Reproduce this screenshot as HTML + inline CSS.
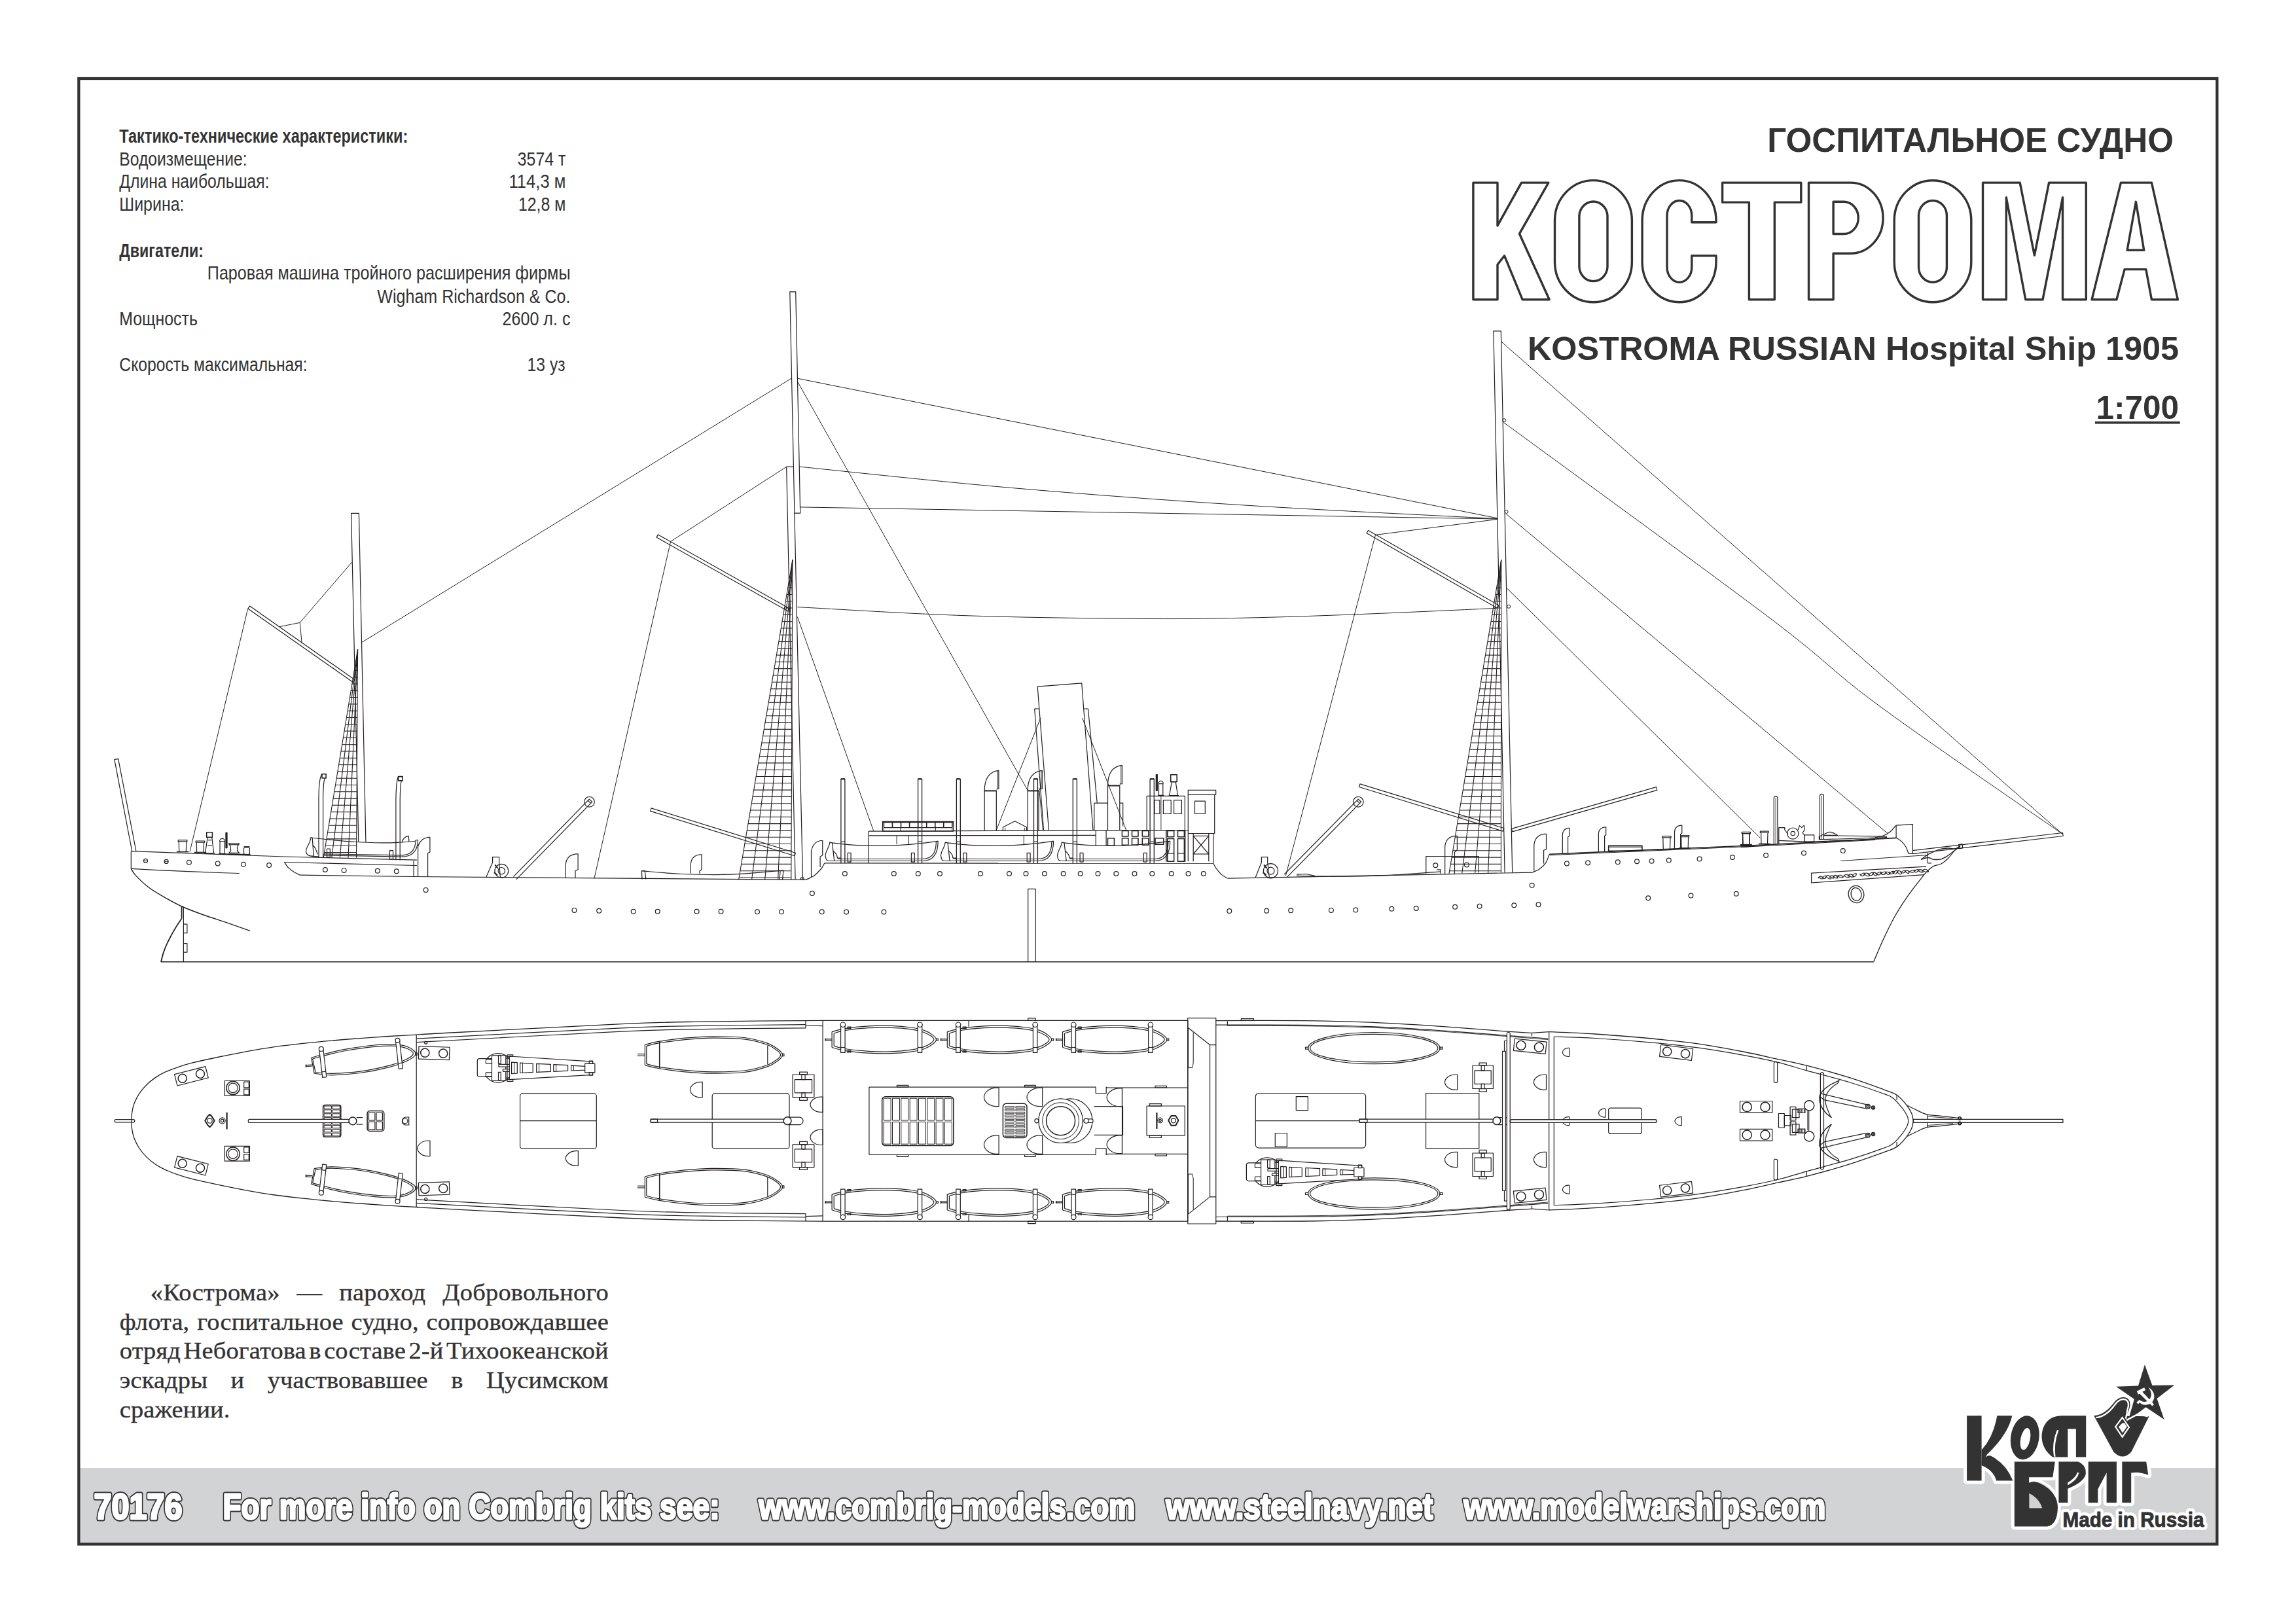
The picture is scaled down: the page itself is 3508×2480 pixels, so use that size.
<!DOCTYPE html>
<html lang="ru"><head><meta charset="utf-8"><title>Кострома 1:700</title>
<style>
html,body{margin:0;padding:0;background:#fff;}
body{width:3508px;height:2480px;overflow:hidden;font-family:"Liberation Sans",sans-serif;}
svg{display:block;position:absolute;left:0;top:0;}
</style></head><body>
<svg width="3508" height="2480" viewBox="0 0 3508 2480">
<rect x="120" y="2243" width="3268" height="117" fill="#d2d3d5"/>
<rect x="120.35" y="120" width="3267" height="2239.5" fill="none" stroke="#333333" stroke-width="4.3"/>
<g fill="#333333" stroke="none"><text x="182.3" y="217.6" font-size="30.3" font-family="'Liberation Sans', sans-serif" textLength="441" lengthAdjust="spacingAndGlyphs" font-weight="bold">Тактико-технические характеристики:</text>
<text x="182.3" y="252.9" font-size="30.3" font-family="'Liberation Sans', sans-serif" textLength="195.2" lengthAdjust="spacingAndGlyphs">Водоизмещение:</text>
<text x="790.7" y="252.9" font-size="30.3" font-family="'Liberation Sans', sans-serif" textLength="73.7" lengthAdjust="spacingAndGlyphs">3574 т</text>
<text x="182.3" y="287.4" font-size="30.3" font-family="'Liberation Sans', sans-serif" textLength="229.3" lengthAdjust="spacingAndGlyphs">Длина наибольшая:</text>
<text x="777.4" y="287.4" font-size="30.3" font-family="'Liberation Sans', sans-serif" textLength="87" lengthAdjust="spacingAndGlyphs">114,3 м</text>
<text x="182.3" y="322.3" font-size="30.3" font-family="'Liberation Sans', sans-serif" textLength="99.2" lengthAdjust="spacingAndGlyphs">Ширина:</text>
<text x="791.9" y="322.3" font-size="30.3" font-family="'Liberation Sans', sans-serif" textLength="72.5" lengthAdjust="spacingAndGlyphs">12,8 м</text>
<text x="182.3" y="392.8" font-size="30.3" font-family="'Liberation Sans', sans-serif" textLength="128.6" lengthAdjust="spacingAndGlyphs" font-weight="bold">Двигатели:</text>
<text x="316.8" y="427.3" font-size="30.3" font-family="'Liberation Sans', sans-serif" textLength="554.7" lengthAdjust="spacingAndGlyphs">Паровая машина тройного расширения фирмы</text>
<text x="576.3" y="462.6" font-size="30.3" font-family="'Liberation Sans', sans-serif" textLength="295.2" lengthAdjust="spacingAndGlyphs">Wigham Richardson &amp; Co.</text>
<text x="182.3" y="497.1" font-size="30.3" font-family="'Liberation Sans', sans-serif" textLength="119.6" lengthAdjust="spacingAndGlyphs">Мощность</text>
<text x="767.6" y="497.1" font-size="30.3" font-family="'Liberation Sans', sans-serif" textLength="103.9" lengthAdjust="spacingAndGlyphs">2600 л. с</text>
<text x="182.3" y="566.5" font-size="30.3" font-family="'Liberation Sans', sans-serif" textLength="287.3" lengthAdjust="spacingAndGlyphs">Скорость максимальная:</text>
<text x="805.6" y="566.5" font-size="30.3" font-family="'Liberation Sans', sans-serif" textLength="58" lengthAdjust="spacingAndGlyphs">13 уз</text>
<text x="2700.2" y="232.2" font-size="51.3" font-family="'Liberation Sans', sans-serif" textLength="620.9" lengthAdjust="spacingAndGlyphs" font-weight="bold">ГОСПИТАЛЬНОЕ СУДНО</text>
<text x="2333.9" y="550" font-size="50.5" font-family="'Liberation Sans', sans-serif" textLength="995.2" lengthAdjust="spacingAndGlyphs" font-weight="bold">KOSTROMA RUSSIAN Hospital Ship 1905</text>
<text x="3202.6" y="639.5" font-size="50.5" font-family="'Liberation Sans', sans-serif" textLength="126.5" lengthAdjust="spacingAndGlyphs" font-weight="bold">1:700</text>
<rect x="3200.9" y="644" width="129.9" height="3.6" fill="#333333" stroke="none"/>
<path d="M2250.9 279.1 L2288 279.1 L2288 344.9 L2324.6 279.1 L2365.9 279.1 L2321.5 357.2 L2367.2 457.8 L2326.2 457.8 L2298.5 390.7 L2288 404.2 L2288 457.8 L2250.9 457.8Z M2375.5 337.1 A58.9 61.4 0 0 1 2493.4 337.1 L2493.4 400.3 A58.9 61.4 0 0 1 2375.5 400.3 Z M2412.9 329.5 A21.6 23 0 0 1 2456 329.5 L2456 408.2 A21.6 23 0 0 1 2412.9 408.2 Z M2622 339.7 L2584.8 339.7 L2584.8 329.5 A18.9 23 0 0 0 2547 329.5 L2547 408.2 A18.9 23 0 0 0 2584.8 408.2 L2584.8 390.7 L2622 390.7 L2622 400.3 A56.4 61.4 0 0 1 2509.1 400.3 L2509.1 337.1 A56.4 61.4 0 0 1 2622 337.1 Z M2631.6 279.1 L2751.8 279.1 L2751.8 309.1 L2711.3 309.1 L2711.3 457.8 L2672.4 457.8 L2672.4 309.1 L2631.6 309.1Z M2763.5 279.1 L2827.5 279.1 A49.6 54.1 0 0 1 2827.5 387.3 L2801.1 387.3 L2801.1 457.8 L2763.5 457.8 Z M2801.1 308.3 L2817.1 308.3 A22.2 24.6 0 0 1 2817.1 357.5 L2801.1 357.5 Z M2894.2 337.1 A58.8 61.4 0 0 1 3011.8 337.1 L3011.8 400.3 A58.8 61.4 0 0 1 2894.2 400.3 Z M2931.5 329.5 A21.4 23 0 0 1 2974.4 329.5 L2974.4 408.2 A21.4 23 0 0 1 2931.5 408.2 Z M3029.5 279.1 L3086.2 279.1 L3108.4 390.1 L3130.6 279.1 L3187.3 279.1 L3187.3 457.8 L3151.5 457.8 L3151.5 301.8 L3121 457.8 L3094.8 457.8 L3065.3 301.8 L3065.3 457.8 L3029.5 457.8Z M3240.4 279.1 L3287.4 279.1 L3327.4 457.8 L3287.4 457.8 L3278.8 411.6 L3246.1 411.6 L3233.9 457.8 L3196 457.8Z M3263.4 308.3 L3275.7 382.3 L3250.1 382.3Z" fill="#fff" stroke="#333333" stroke-width="3.4" stroke-linejoin="round"/>
<text transform="translate(229.8 1987.1) scale(1.055 1)" font-size="36.5" font-family="'Liberation Serif', serif" stroke="#333333" stroke-width="0.35" word-spacing="15.21" textLength="663.4" lengthAdjust="spacing" xml:space="preserve">«Кострома» — пароход Добровольного</text>
<text transform="translate(182.8 2031.5) scale(1.055 1)" font-size="36.5" font-family="'Liberation Serif', serif" stroke="#333333" stroke-width="0.35" word-spacing="2.04" textLength="708" lengthAdjust="spacing" xml:space="preserve">флота, госпитальное судно, сопровождавшее</text>
<text transform="translate(182.8 2076.4) scale(1.055 1)" font-size="36.5" font-family="'Liberation Serif', serif" stroke="#333333" stroke-width="0.35" word-spacing="-5.00" textLength="708" lengthAdjust="spacing" xml:space="preserve">отряд Небогатова в составе 2-й Тихоокеанской</text>
<text transform="translate(182.8 2120.8) scale(1.055 1)" font-size="36.5" font-family="'Liberation Serif', serif" stroke="#333333" stroke-width="0.35" word-spacing="24.31" textLength="708" lengthAdjust="spacing" xml:space="preserve">эскадры и участвовавшее в Цусимском</text>
<text transform="translate(182.8 2165.7) scale(1.055 1)" font-size="36.5" font-family="'Liberation Serif', serif" stroke="#333333" stroke-width="0.35" word-spacing="0.00" textLength="159.8" lengthAdjust="spacing" xml:space="preserve">сражении.</text>
<text x="143.5" y="2320.8" font-size="56" font-family="'Liberation Sans', sans-serif" textLength="134.9" lengthAdjust="spacingAndGlyphs" font-weight="bold" fill="#333333" stroke="#333333" stroke-width="7" stroke-linejoin="round">70176</text>
<text x="143.5" y="2320.8" font-size="56" font-family="'Liberation Sans', sans-serif" textLength="134.9" lengthAdjust="spacingAndGlyphs" font-weight="bold" fill="#fff" stroke="#fff" stroke-width="3.2" stroke-linejoin="round">70176</text>
<text x="340.6" y="2320.8" font-size="56" font-family="'Liberation Sans', sans-serif" textLength="758.9" lengthAdjust="spacingAndGlyphs" font-weight="bold" fill="#333333" stroke="#333333" stroke-width="7" stroke-linejoin="round">For more info on Combrig kits see:</text>
<text x="340.6" y="2320.8" font-size="56" font-family="'Liberation Sans', sans-serif" textLength="758.9" lengthAdjust="spacingAndGlyphs" font-weight="bold" fill="#fff" stroke="#fff" stroke-width="3.2" stroke-linejoin="round">For more info on Combrig kits see:</text>
<text x="1159.5" y="2320.8" font-size="56" font-family="'Liberation Sans', sans-serif" textLength="574.9" lengthAdjust="spacingAndGlyphs" font-weight="bold" fill="#333333" stroke="#333333" stroke-width="7" stroke-linejoin="round">www.combrig-models.com</text>
<text x="1159.5" y="2320.8" font-size="56" font-family="'Liberation Sans', sans-serif" textLength="574.9" lengthAdjust="spacingAndGlyphs" font-weight="bold" fill="#fff" stroke="#fff" stroke-width="3.2" stroke-linejoin="round">www.combrig-models.com</text>
<text x="1781.5" y="2320.8" font-size="56" font-family="'Liberation Sans', sans-serif" textLength="407.9" lengthAdjust="spacingAndGlyphs" font-weight="bold" fill="#333333" stroke="#333333" stroke-width="7" stroke-linejoin="round">www.steelnavy.net</text>
<text x="1781.5" y="2320.8" font-size="56" font-family="'Liberation Sans', sans-serif" textLength="407.9" lengthAdjust="spacingAndGlyphs" font-weight="bold" fill="#fff" stroke="#fff" stroke-width="3.2" stroke-linejoin="round">www.steelnavy.net</text>
<text x="2236.5" y="2320.8" font-size="56" font-family="'Liberation Sans', sans-serif" textLength="552.9" lengthAdjust="spacingAndGlyphs" font-weight="bold" fill="#333333" stroke="#333333" stroke-width="7" stroke-linejoin="round">www.modelwarships.com</text>
<text x="2236.5" y="2320.8" font-size="56" font-family="'Liberation Sans', sans-serif" textLength="552.9" lengthAdjust="spacingAndGlyphs" font-weight="bold" fill="#fff" stroke="#fff" stroke-width="3.2" stroke-linejoin="round">www.modelwarships.com</text></g>
<g fill="none" stroke="#231f20" stroke-width="1.2" stroke-linejoin="round" stroke-linecap="butt"><path d="M246 1469.7 2862.7 1469.7" stroke-width="1.5"/>
<path d="M277.6 1403.5 C276.1 1405.7 272.2 1411.1 268.9 1416.6 C265.6 1422 261.1 1430 258 1436.2 C254.9 1442.3 252.4 1448 250.4 1453.6 C248.4 1459.2 246.7 1467.2 246 1469.9" stroke-width="1.8"/>
<path d="M277.6 1385 277.6 1403.5" stroke-width="1.8"/>
<path d="M280.4 1385.6 280.4 1469.9"/>
<path d="M280.4 1412.2 285.9 1412.2 285.9 1425.7 280.4 1425.7"/>
<path d="M280.4 1441.6 285.9 1441.6 285.9 1455.1 280.4 1455.1"/>
<path d="M200.3 1300.7 200.3 1327.3"/>
<path d="M200.3 1327.3 C201.4 1328.9 202.6 1332.5 206.8 1337.1 C211 1341.6 218.6 1349.2 225.3 1354.5 C232 1359.8 238.4 1363.6 247.1 1368.7 C255.8 1373.7 266.7 1380 277.6 1385 C288.5 1390 301.2 1394.4 312.4 1398.5 C323.7 1402.6 333.5 1405.4 345.1 1409.4 C356.7 1413.4 376 1420.3 382.1 1422.4" stroke-width="1.4"/>
<path d="M200.3 1327.3 C208.1 1327.7 228.4 1329 247.1 1329.9 C265.8 1330.8 292.7 1332 312.4 1332.7 C332.2 1333.5 356.9 1334.2 365.8 1334.5"/>
<path d="M200.3 1300.7 434.4 1309 636.9 1314.2"/>
<path d="M434.4 1317.5 C435.5 1318.9 438.4 1323.7 440.9 1326.2 C443.5 1328.7 446.7 1330.9 449.6 1332.7 C452.5 1334.5 456.9 1336.4 458.3 1337.1"/>
<path d="M434.4 1317.5 636.9 1322.5"/>
<path d="M458.3 1337.1 632.1 1339.5 1231 1344.4"/>
<path d="M632.1 1315.3 632.1 1339.5"/>
<path d="M638.6 1293.7 638.6 1339.7"/>
<path d="M1231 1344.4 C1233.1 1343.3 1239.9 1341 1243.9 1338.1 C1247.9 1335.2 1252.3 1330.2 1255 1327 C1257.6 1323.8 1259 1320.2 1259.8 1318.9"/>
<path d="M1259.8 1318.9 1853.7 1319.2"/>
<path d="M1853.7 1319.2 C1854.6 1320.6 1856.5 1324.8 1858.7 1327.7 C1860.8 1330.6 1863.8 1334.2 1866.6 1336.6 C1869.3 1339 1873.9 1341.2 1875.4 1342.1"/>
<path d="M1875.4 1342.1 2180 1336.4 2341.1 1333.1"/>
<path d="M2341.1 1333.1 C2343 1332.3 2348.6 1330.6 2352 1328.1 C2355.5 1325.6 2359.3 1322.1 2361.8 1318.3 C2364.4 1314.5 2366.4 1307.4 2367.3 1305.2"/>
<path d="M2367.3 1305.2 2680 1291.7 2660 1292.9 2897.8 1280.4" stroke-width="1.6"/>
<path d="M2367.3 1306.7 2680 1293.2 2660 1294.5 2865 1283.4" stroke-width="1"/>
<path d="M2865 1279.7 C2867.1 1279.3 2873.5 1278.6 2877.4 1277 C2881.4 1275.4 2885.6 1272.9 2888.8 1270.2 C2892 1267.6 2895.4 1262.7 2896.7 1261.2"/>
<path d="M2897.1 1261.2 2922.3 1259.6 2922.3 1304.2 2915.9 1304.2"/>
<path d="M2897.1 1261.2 2897.1 1280.4"/>
<path d="M2897.8 1280.4 C2899.1 1281.4 2903.4 1283.8 2905.8 1286.1 C2908.1 1288.3 2910.2 1291 2911.9 1294 C2913.6 1297 2915.3 1302.5 2915.9 1304.2"/>
<path d="M2922.3 1299.7 3151.5 1272.5 3152.2 1277.5 2922.3 1304.6"/>
<path d="M2862.7 1469.5 C2865.2 1463.9 2872 1447.3 2877.4 1435.6 C2882.9 1423.9 2889.1 1410.6 2895.6 1399.3 C2902 1388 2908.8 1377.8 2915.9 1367.6 C2923.1 1357.4 2933.8 1344.3 2938.6 1338.2 C2943.4 1332 2943.9 1332.1 2944.9 1330.9" stroke-width="1.3"/>
<path d="M2943.1 1324.1 2767.6 1334.1 2767.6 1349 2939.7 1336.6"/>
<path d="M2812.2 1315.5 2945.4 1306.5"/>
<path d="M2935.2 1313.3 C2937.3 1311.8 2942.9 1307.2 2947.7 1304.6 C2952.4 1302.1 2958.6 1299.3 2963.5 1297.8 C2968.4 1296.4 2973.1 1296.2 2977.1 1296 C2981.1 1295.9 2984.3 1297.5 2987.3 1296.9 C2990.2 1296.3 2993.5 1293.2 2994.8 1292.4" stroke-width="1.3"/>
<path d="M2935.2 1313.3 C2937 1312.8 2942.6 1310.5 2945.8 1310.5 C2949.1 1310.5 2951.1 1312.9 2954.5 1313.3 C2957.8 1313.6 2962.2 1313.7 2965.8 1312.8 C2969.4 1311.9 2972.9 1309.5 2976 1307.6 C2979 1305.7 2980.8 1303.9 2983.9 1301.5 C2987 1299.1 2993 1294.7 2994.8 1293.3" stroke-width="1.3"/>
<path d="M2944.3 1331.4 C2946 1330 2950.9 1325.3 2954.5 1323.4 C2958 1321.6 2962 1322.1 2965.8 1320 C2969.6 1318 2973.7 1314.4 2977.1 1311 C2980.5 1307.6 2984.7 1301.5 2986.2 1299.7"/>
<path d="M2945.4 1303.1 2945.4 1318.9 2951.1 1318.9"/>
<path d="M2992.5 1290.6 2997.9 1289.7 2998.8 1295.6 2993.9 1296.9Z"/>
<ellipse cx="2836" cy="1366.5" rx="11.8" ry="13.1" stroke-width="1.3" transform="rotate(-12 2836 1366.5)"/>
<ellipse cx="2836" cy="1366.5" rx="7.9" ry="10" stroke-width="1.3" transform="rotate(-12 2836 1366.5)"/>
<path d="M1570.7 1469.7 1570.7 1358.4 1582.2 1358.4 1582.2 1469.7"/>
<circle cx="288.9" cy="1317.7" r="3.4"/>
<circle cx="332.7" cy="1319.4" r="3.4"/>
<circle cx="371.9" cy="1320.7" r="3.4"/>
<circle cx="411.1" cy="1322.1" r="3.4"/>
<circle cx="496.9" cy="1329" r="3.4"/>
<circle cx="525.6" cy="1329.9" r="3.4"/>
<circle cx="576.8" cy="1330.8" r="3.4"/>
<circle cx="605.8" cy="1331.2" r="3.4"/>
<circle cx="650.6" cy="1359.9" r="3.4"/>
<circle cx="967.7" cy="1392.8" r="3.4"/>
<circle cx="1004.7" cy="1392.8" r="3.4"/>
<circle cx="1064.6" cy="1392.8" r="3.4"/>
<circle cx="1101.6" cy="1392.8" r="3.4"/>
<circle cx="1157" cy="1393.2" r="3.4"/>
<circle cx="1194" cy="1393.2" r="3.4"/>
<circle cx="1255.7" cy="1393.2" r="3.4"/>
<circle cx="1293.1" cy="1393.5" r="3.4"/>
<circle cx="1350.4" cy="1393.5" r="3.4"/>
<circle cx="1240.9" cy="1365.1" r="3.4"/>
<circle cx="1290.9" cy="1335" r="3.4"/>
<circle cx="1365.8" cy="1335" r="3.4"/>
<circle cx="1402.8" cy="1335" r="3.4"/>
<circle cx="1436" cy="1335" r="3.4"/>
<circle cx="1497.9" cy="1335" r="3.4"/>
<circle cx="1542" cy="1335" r="3.4"/>
<circle cx="1567.5" cy="1335" r="3.4"/>
<circle cx="1595.9" cy="1335" r="3.4"/>
<circle cx="1624.7" cy="1335" r="3.4"/>
<circle cx="1650.7" cy="1335" r="3.4"/>
<circle cx="1677.5" cy="1335" r="3.4"/>
<circle cx="1705.3" cy="1335" r="3.4"/>
<circle cx="1733.5" cy="1335" r="3.4"/>
<circle cx="1760.3" cy="1335" r="3.4"/>
<circle cx="1789.7" cy="1335" r="3.4"/>
<circle cx="1815.5" cy="1335" r="3.4"/>
<circle cx="1838.8" cy="1335" r="3.4"/>
<circle cx="1878.3" cy="1392.1" r="3.4"/>
<circle cx="1935.2" cy="1391.7" r="3.4"/>
<circle cx="1972.2" cy="1391.3" r="3.4"/>
<circle cx="2033.9" cy="1390.9" r="3.4"/>
<circle cx="2071.3" cy="1390.6" r="3.4"/>
<circle cx="2126.3" cy="1388.7" r="3.4"/>
<circle cx="2163.7" cy="1388" r="3.4"/>
<circle cx="2193.3" cy="1322.2" r="3.4"/>
<circle cx="2240.9" cy="1321.4" r="3.4"/>
<circle cx="2223.1" cy="1385.8" r="3.4"/>
<circle cx="2260.6" cy="1384.7" r="3.4"/>
<circle cx="2313.3" cy="1383.2" r="3.4"/>
<circle cx="2350.5" cy="1382.3" r="3.4"/>
<circle cx="2340.7" cy="1352.7" r="3.4"/>
<circle cx="2393.9" cy="1319.4" r="3.4"/>
<circle cx="2426.1" cy="1318.5" r="3.4"/>
<circle cx="2471.8" cy="1317.2" r="3.4"/>
<circle cx="2501" cy="1316.3" r="3.4"/>
<circle cx="2523.6" cy="1315.7" r="3.4"/>
<circle cx="2549.8" cy="1314.6" r="3.4"/>
<circle cx="2596.6" cy="1312.6" r="3.4"/>
<circle cx="2646.9" cy="1310" r="3.4"/>
<circle cx="2518.2" cy="1372.3" r="3.4"/>
<circle cx="2583.5" cy="1368.6" r="3.4"/>
<circle cx="2652.8" cy="1365.8" r="3.4"/>
<circle cx="2698.1" cy="1307.1" r="3.4"/>
<circle cx="2756" cy="1303.5" r="3.4"/>
<circle cx="2815.8" cy="1300.1" r="3.4"/>
<circle cx="877.5" cy="1390.9" r="3.4"/>
<circle cx="915.2" cy="1391.7" r="3.4"/>
<circle cx="222.5" cy="1315.3" r="3"/>
<path d="M219.5 1315.3 225.5 1315.3" stroke-width="0.9"/>
<circle cx="254.1" cy="1316.4" r="3"/>
<path d="M251.1 1316.4 257.1 1316.4" stroke-width="0.9"/>
<path d="M547.8 1285.9 536.6 784.3 548.4 784.3 558.9 1286.5"/>
<path d="M1206.8 445.9 1215.7 445.9 1222.7 784.1 1213.9 784.1Z"/>
<path d="M1201.7 713.2 1212 713.2"/>
<path d="M1201.7 713.2 1215.1 1343.6"/>
<path d="M1213.9 784.1 1226.5 1343.6"/>
<path d="M2299.1 1333.5 2281.9 505.8 2293.3 505.8 2310.7 1333.5"/>
<path d="M201.8 1301.1 174.8 1160.3 180.7 1159.6 207.9 1300.5"/>
<path d="M378.8 930.1 539.7 1042.8 542.4 1038.9 381.6 926.1Z"/>
<path d="M378.4 931.1 290 1301.6" stroke-width="1"/>
<path d="M537.7 859 458.2 951.4 426.8 957.7" stroke-width="1"/>
<path d="M458.2 951.4 461.2 982.8" stroke-width="1"/>
<path d="M552.5 981.7 1209.1 578.2" stroke-width="1"/>
<path d="M546.6 992.1 494.2 1310.7" stroke-width="1.1"/>
<path d="M546.6 992.1 506.8 1310.7" stroke-width="1.1"/>
<path d="M546.6 992.1 519.4 1310.7" stroke-width="1.1"/>
<path d="M546.6 992.1 532 1310.7" stroke-width="1.1"/>
<path d="M546.6 992.1 544.5 1310.7" stroke-width="1.1"/>
<path d="M543 1014.1 546.4 1014.1" stroke-width="1.1"/>
<path d="M541.3 1024.4 546.4 1024.4" stroke-width="1.1"/>
<path d="M539.6 1034.7 546.3 1034.7" stroke-width="1.1"/>
<path d="M537.9 1045 546.2 1045" stroke-width="1.1"/>
<path d="M536.2 1055.3 546.2 1055.3" stroke-width="1.1"/>
<path d="M534.5 1065.6 546.1 1065.6" stroke-width="1.1"/>
<path d="M532.8 1075.9 546 1075.9" stroke-width="1.1"/>
<path d="M531.1 1086.2 546 1086.2" stroke-width="1.1"/>
<path d="M529.4 1096.5 545.9 1096.5" stroke-width="1.1"/>
<path d="M527.7 1106.8 545.8 1106.8" stroke-width="1.1"/>
<path d="M526 1117.1 545.8 1117.1" stroke-width="1.1"/>
<path d="M524.4 1127.4 545.7 1127.4" stroke-width="1.1"/>
<path d="M522.7 1137.7 545.6 1137.7" stroke-width="1.1"/>
<path d="M521 1148 545.6 1148" stroke-width="1.1"/>
<path d="M519.3 1158.3 545.5 1158.3" stroke-width="1.1"/>
<path d="M517.6 1168.6 545.4 1168.6" stroke-width="1.1"/>
<path d="M515.9 1178.9 545.4 1178.9" stroke-width="1.1"/>
<path d="M514.2 1189.2 545.3 1189.2" stroke-width="1.1"/>
<path d="M512.5 1199.5 545.2 1199.5" stroke-width="1.1"/>
<path d="M510.8 1209.8 545.2 1209.8" stroke-width="1.1"/>
<path d="M509.1 1220.1 545.1 1220.1" stroke-width="1.1"/>
<path d="M507.4 1230.4 545.1 1230.4" stroke-width="1.1"/>
<path d="M505.7 1240.7 545 1240.7" stroke-width="1.1"/>
<path d="M504 1251 544.9 1251" stroke-width="1.1"/>
<path d="M502.4 1261.3 544.9 1261.3" stroke-width="1.1"/>
<path d="M500.7 1271.6 544.8 1271.6" stroke-width="1.1"/>
<path d="M499 1281.9 544.7 1281.9" stroke-width="1.1"/>
<path d="M497.3 1292.2 544.7 1292.2" stroke-width="1.1"/>
<path d="M495.6 1302.5 544.6 1302.5" stroke-width="1.1"/>
<path d="M1003.1 821.1 1204.2 934.1 1206.5 929.9 1005.4 816.9Z"/>
<path d="M1024.6 827.5 907.9 1342.5" stroke-width="1"/>
<path d="M1024.6 827.5 1201.7 713.2" stroke-width="1"/>
<path d="M1210.9 855.5 1128.6 1344.4" stroke-width="1.1"/>
<path d="M1210.9 855.5 1148.6 1344.4" stroke-width="1.1"/>
<path d="M1210.9 855.5 1168.7 1344.4" stroke-width="1.1"/>
<path d="M1210.9 855.5 1188.7 1344.4" stroke-width="1.1"/>
<path d="M1210.9 855.5 1208.8 1344.4" stroke-width="1.1"/>
<path d="M1207.2 877.5 1210.8 877.5" stroke-width="1.1"/>
<path d="M1205.5 887.8 1210.8 887.8" stroke-width="1.1"/>
<path d="M1203.7 898.1 1210.7 898.1" stroke-width="1.1"/>
<path d="M1202 908.4 1210.7 908.4" stroke-width="1.1"/>
<path d="M1200.3 918.7 1210.6 918.7" stroke-width="1.1"/>
<path d="M1198.5 929 1210.6 929" stroke-width="1.1"/>
<path d="M1196.8 939.3 1210.5 939.3" stroke-width="1.1"/>
<path d="M1195.1 949.6 1210.5 949.6" stroke-width="1.1"/>
<path d="M1193.3 959.9 1210.5 959.9" stroke-width="1.1"/>
<path d="M1191.6 970.2 1210.4 970.2" stroke-width="1.1"/>
<path d="M1189.9 980.5 1210.4 980.5" stroke-width="1.1"/>
<path d="M1188.1 990.8 1210.3 990.8" stroke-width="1.1"/>
<path d="M1186.4 1001.1 1210.3 1001.1" stroke-width="1.1"/>
<path d="M1184.6 1011.4 1210.2 1011.4" stroke-width="1.1"/>
<path d="M1182.9 1021.7 1210.2 1021.7" stroke-width="1.1"/>
<path d="M1181.2 1032 1210.1 1032" stroke-width="1.1"/>
<path d="M1179.4 1042.3 1210.1 1042.3" stroke-width="1.1"/>
<path d="M1177.7 1052.6 1210 1052.6" stroke-width="1.1"/>
<path d="M1176 1062.9 1210 1062.9" stroke-width="1.1"/>
<path d="M1174.2 1073.2 1210 1073.2" stroke-width="1.1"/>
<path d="M1172.5 1083.5 1209.9 1083.5" stroke-width="1.1"/>
<path d="M1170.8 1093.8 1209.9 1093.8" stroke-width="1.1"/>
<path d="M1169 1104.1 1209.8 1104.1" stroke-width="1.1"/>
<path d="M1167.3 1114.4 1209.8 1114.4" stroke-width="1.1"/>
<path d="M1165.6 1124.7 1209.7 1124.7" stroke-width="1.1"/>
<path d="M1163.8 1135 1209.7 1135" stroke-width="1.1"/>
<path d="M1162.1 1145.3 1209.6 1145.3" stroke-width="1.1"/>
<path d="M1160.4 1155.6 1209.6 1155.6" stroke-width="1.1"/>
<path d="M1158.6 1165.9 1209.6 1165.9" stroke-width="1.1"/>
<path d="M1156.9 1176.2 1209.5 1176.2" stroke-width="1.1"/>
<path d="M1155.2 1186.5 1209.5 1186.5" stroke-width="1.1"/>
<path d="M1153.4 1196.8 1209.4 1196.8" stroke-width="1.1"/>
<path d="M1151.7 1207.1 1209.4 1207.1" stroke-width="1.1"/>
<path d="M1149.9 1217.4 1209.3 1217.4" stroke-width="1.1"/>
<path d="M1148.2 1227.7 1209.3 1227.7" stroke-width="1.1"/>
<path d="M1146.5 1238 1209.2 1238" stroke-width="1.1"/>
<path d="M1144.7 1248.3 1209.2 1248.3" stroke-width="1.1"/>
<path d="M1143 1258.6 1209.2 1258.6" stroke-width="1.1"/>
<path d="M1141.3 1268.9 1209.1 1268.9" stroke-width="1.1"/>
<path d="M1139.5 1279.2 1209.1 1279.2" stroke-width="1.1"/>
<path d="M1137.8 1289.5 1209 1289.5" stroke-width="1.1"/>
<path d="M1136.1 1299.8 1209 1299.8" stroke-width="1.1"/>
<path d="M1134.3 1310.1 1208.9 1310.1" stroke-width="1.1"/>
<path d="M1132.6 1320.4 1208.9 1320.4" stroke-width="1.1"/>
<path d="M1130.9 1330.7 1208.8 1330.7" stroke-width="1.1"/>
<path d="M1129.1 1341 1208.8 1341" stroke-width="1.1"/>
<path d="M993.6 1239.4 1214 1307.8 1215.4 1303.3 995.1 1234.9Z"/>
<path d="M1218.3 578.2 2288.2 791.9" stroke-width="1"/>
<path d="M1218.3 582.7 1570.6 1208.4" stroke-width="1"/>
<path d="M1222 713.2 C1275.6 718.5 1430.6 735.5 1543.6 745.3 C1656.6 755.1 1775.9 764.1 1900 771.9 C2024.1 779.8 2223.5 789.2 2288.2 792.6" stroke-width="1"/>
<path d="M1222.7 774.9 2288.2 793" stroke-width="1"/>
<path d="M1218.3 927.6 C1260.2 929.7 1384.7 937.6 1469.7 940.5 C1554.7 943.5 1656.7 944.7 1728.5 945.3 C1800.2 945.9 1840.6 945.4 1900 944.2 C1959.4 943 2020.5 940.8 2084.8 938.3 C2149.2 935.8 2252.7 930.9 2286.3 929.4" stroke-width="1"/>
<path d="M1218.3 942.4 1334.6 1269.5" stroke-width="1"/>
<path d="M2088.1 814.7 2287.7 929.3 2290.1 925.1 2090.5 810.5Z"/>
<path d="M2101.5 817.4 2288.2 793.4" stroke-width="1"/>
<path d="M2101.5 817.4 1964.4 1338.1" stroke-width="1"/>
<path d="M2293.7 855.5 2214 1334.8" stroke-width="1.1"/>
<path d="M2293.7 855.5 2233.8 1334.5" stroke-width="1.1"/>
<path d="M2293.7 855.5 2253.7 1334.2" stroke-width="1.1"/>
<path d="M2293.7 855.5 2273.6 1333.9" stroke-width="1.1"/>
<path d="M2293.7 855.5 2293.4 1333.6" stroke-width="1.1"/>
<path d="M2290.1 877.5 2293.7 877.5" stroke-width="1.1"/>
<path d="M2288.3 887.8 2293.7 887.8" stroke-width="1.1"/>
<path d="M2286.6 898.1 2293.7 898.1" stroke-width="1.1"/>
<path d="M2284.9 908.4 2293.7 908.4" stroke-width="1.1"/>
<path d="M2283.2 918.7 2293.7 918.7" stroke-width="1.1"/>
<path d="M2281.5 929 2293.7 929" stroke-width="1.1"/>
<path d="M2279.8 939.3 2293.7 939.3" stroke-width="1.1"/>
<path d="M2278.1 949.6 2293.7 949.6" stroke-width="1.1"/>
<path d="M2276.3 959.9 2293.7 959.9" stroke-width="1.1"/>
<path d="M2274.6 970.2 2293.6 970.2" stroke-width="1.1"/>
<path d="M2272.9 980.5 2293.6 980.5" stroke-width="1.1"/>
<path d="M2271.2 990.8 2293.6 990.8" stroke-width="1.1"/>
<path d="M2269.5 1001.1 2293.6 1001.1" stroke-width="1.1"/>
<path d="M2267.8 1011.4 2293.6 1011.4" stroke-width="1.1"/>
<path d="M2266.1 1021.7 2293.6 1021.7" stroke-width="1.1"/>
<path d="M2264.3 1032 2293.6 1032" stroke-width="1.1"/>
<path d="M2262.6 1042.3 2293.6 1042.3" stroke-width="1.1"/>
<path d="M2260.9 1052.6 2293.6 1052.6" stroke-width="1.1"/>
<path d="M2259.2 1062.9 2293.6 1062.9" stroke-width="1.1"/>
<path d="M2257.5 1073.2 2293.6 1073.2" stroke-width="1.1"/>
<path d="M2255.8 1083.5 2293.6 1083.5" stroke-width="1.1"/>
<path d="M2254.1 1093.8 2293.6 1093.8" stroke-width="1.1"/>
<path d="M2252.3 1104.1 2293.6 1104.1" stroke-width="1.1"/>
<path d="M2250.6 1114.4 2293.6 1114.4" stroke-width="1.1"/>
<path d="M2248.9 1124.7 2293.6 1124.7" stroke-width="1.1"/>
<path d="M2247.2 1135 2293.6 1135" stroke-width="1.1"/>
<path d="M2245.5 1145.3 2293.5 1145.3" stroke-width="1.1"/>
<path d="M2243.8 1155.6 2293.5 1155.6" stroke-width="1.1"/>
<path d="M2242.1 1165.9 2293.5 1165.9" stroke-width="1.1"/>
<path d="M2240.3 1176.2 2293.5 1176.2" stroke-width="1.1"/>
<path d="M2238.6 1186.5 2293.5 1186.5" stroke-width="1.1"/>
<path d="M2236.9 1196.8 2293.5 1196.8" stroke-width="1.1"/>
<path d="M2235.2 1207.1 2293.5 1207.1" stroke-width="1.1"/>
<path d="M2233.5 1217.4 2293.5 1217.4" stroke-width="1.1"/>
<path d="M2231.8 1227.7 2293.5 1227.7" stroke-width="1.1"/>
<path d="M2230.1 1238 2293.5 1238" stroke-width="1.1"/>
<path d="M2228.3 1248.3 2293.5 1248.3" stroke-width="1.1"/>
<path d="M2226.6 1258.6 2293.5 1258.6" stroke-width="1.1"/>
<path d="M2224.9 1268.9 2293.5 1268.9" stroke-width="1.1"/>
<path d="M2223.2 1279.2 2293.5 1279.2" stroke-width="1.1"/>
<path d="M2221.5 1289.5 2293.5 1289.5" stroke-width="1.1"/>
<path d="M2219.8 1299.8 2293.5 1299.8" stroke-width="1.1"/>
<path d="M2218.1 1310.1 2293.5 1310.1" stroke-width="1.1"/>
<path d="M2216.3 1320.4 2293.4 1320.4" stroke-width="1.1"/>
<path d="M2214.6 1330.7 2293.4 1330.7" stroke-width="1.1"/>
<path d="M2076.5 1202.5 2296.4 1270.1 2297.8 1265.5 2077.9 1197.9Z"/>
<path d="M2310.7 1270.9 2531.8 1207.3 2530.5 1202.7 2309.4 1266.3Z"/>
<path d="M2293.3 521.7 3151.1 1274.3" stroke-width="1"/>
<path d="M2297.4 645.5 C2364.5 694.8 2604.6 869.3 2700 941.3 C2795.4 1013.2 2794.5 1021.9 2869.7 1077.4 C2944.9 1133 3104.2 1241.5 3151.1 1274.3" stroke-width="1"/>
<path d="M2301.1 785.2 2884.2 1273.6" stroke-width="1"/>
<path d="M2302.2 898.7 2689.4 1280.4" stroke-width="1"/>
<circle cx="2298.2" cy="642.2" r="2.5" stroke-width="1"/>
<circle cx="2301.5" cy="781.9" r="2.5" stroke-width="1"/>
<circle cx="2305.2" cy="926.8" r="2.5" stroke-width="1"/>
<path d="M1589.9 1097 1521.9 1269.5" stroke-width="1"/>
<path d="M1653.6 1097 1720.7 1268.5" stroke-width="1"/>
<circle cx="900.5" cy="1225.3" r="7.8"/>
<path d="M788.7 1343.9 902.6 1227.4 898.3 1223.2 784.5 1339.7"/>
<path d="M902.6 1227.4 904.7 1225.3 900.4 1221.1 898.3 1223.2"/>
<circle cx="2075.3" cy="1225.3" r="7.8"/>
<path d="M1966.6 1340.2 2077.5 1227.4 2073.2 1223.2 1962.3 1336"/>
<path d="M2077.5 1227.4 2079.6 1225.3 2075.3 1221.1 2073.2 1223.2"/>
<rect x="272.2" y="1283.7" width="13.7" height="2.2"/>
<path d="M273.2 1285.9 273.7 1301.6"/>
<path d="M284.8 1285.9 284.3 1301.6"/>
<path d="M269.8 1301.6 288.3 1301.6" stroke-width="1.6"/>
<rect x="299.2" y="1285" width="13.5" height="2.2"/>
<path d="M300.2 1287.2 300.7 1302.5"/>
<path d="M311.6 1287.2 311.1 1302.5"/>
<path d="M296.8 1302.5 315.1 1302.5" stroke-width="1.6"/>
<path d="M313.5 1303.8 317.2 1279.4 323.8 1279.4 326.6 1303.8"/>
<rect x="315.7" y="1271.8" width="8.7" height="7.6" stroke-width="1.5"/>
<path d="M318.1 1283.7 322.9 1283.7"/>
<path d="M317.2 1292.4 323.8 1292.4"/>
<path d="M312.4 1303.8 328.1 1303.8" stroke-width="1.6"/>
<rect x="336" y="1285.5" width="7.4" height="18.9"/>
<path d="M335.5 1285.5 A4.1 4.1 0 0 1 343.8 1285.5"/>
<rect x="344.9" y="1272.2" width="2.2" height="23.7" stroke-width="1" fill="#231f20"/>
<path d="M349.9 1303.3 352.7 1300.1 352.1 1292.4 349.9 1290.3 349.9 1288.5 365.1 1288.5 365.1 1290.3 363 1292.4 362.5 1300.1 365.6 1303.3Z"/>
<path d="M350.3 1290.7 364.7 1290.7"/>
<rect x="372.5" y="1295.1" width="8.9" height="10.5" rx="2"/>
<path d="M372.5 1293.7 381.5 1293.7"/>
<path d="M334.2 1304.9 382.6 1305.9" stroke-width="1.6"/>
<path d="M487 1311 L487 1218.6 Q487.4 1187.9 492 1182.7"/>
<path d="M493.6 1311 L493.6 1218.6 Q494 1193.1 496.6 1188.5"/>
<rect x="492" y="1182.7" width="6.1" height="6.3" stroke-width="1.6"/>
<path d="M604.9 1314.4 L604.9 1222.4 Q605.3 1191.8 608.6 1186.6"/>
<path d="M611.2 1314.4 L611.2 1222.4 Q611.6 1197 613.5 1192.5"/>
<rect x="608.6" y="1186.6" width="6.5" height="6.3" stroke-width="1.6"/>
<path d="M474.6 1280 C479.7 1280.6 493.7 1282.2 505.3 1283.3 C517 1284.4 531.5 1285.8 544.5 1286.5 C557.6 1287.3 572.8 1287.7 583.7 1287.9 C594.6 1288 601.4 1287.6 609.9 1287.2 C618.4 1286.8 630.6 1285.6 634.7 1285.2"/>
<path d="M638.6 1283.5 Q638 1308.8 613.8 1309.2"/>
<path d="M635.1 1283.9 Q634.7 1306.1 613.8 1306.8"/>
<path d="M635.1 1283.9 638.6 1283.5"/>
<path d="M494.9 1306.8 613.8 1309.2"/>
<path d="M494.9 1304.8 613.8 1306.8"/>
<path d="M474.6 1280 C474.6 1289.8 466.1 1295 467.7 1302.2 C468.5 1306.8 471.4 1308.4 487 1308.8"/>
<path d="M474.6 1280 477.2 1280.4 479.2 1308.1"/>
<path d="M477.9 1291.1 Q483.1 1296.3 485.1 1305.5"/>
<rect x="499.5" y="1297" width="4.8" height="12.7"/>
<rect x="595.5" y="1299.6" width="5" height="13.1"/>
<path d="M638.6 1293.7 Q641.9 1281.3 654.3 1279.4 L656.9 1279.4 L656.9 1302.2 L653.6 1303.5 L653.6 1339.7"/>
<path d="M614.4 1286.5 Q616.4 1278.7 624.2 1277.4 L624.9 1285.9"/>
<path d="M742.6 1340.7 752.6 1317.7 752.6 1309.6 762.6 1309.6 762.6 1317.7 764.4 1340.7"/>
<circle cx="766.3" cy="1330.7" r="10.4"/>
<circle cx="766.3" cy="1330.7" r="5.2"/>
<path d="M756.3 1321.4 760.7 1327" stroke-width="2"/>
<path d="M754.8 1333.3 760 1337" stroke-width="2"/>
<path d="M864.2 1341.8 L864.2 1321.4 Q865.3 1306.7 880.1 1304.8 L883.1 1304.8 L883.1 1328.8 L879 1330.7"/>
<path d="M879 1330.7 879 1341.8"/>
<path d="M980.3 1330.7 C990.7 1331.5 1019.7 1334.6 1042.4 1335.5 C1065.1 1336.4 1090.6 1337.2 1116.4 1336.2 C1142.1 1335.3 1183.5 1331 1197 1329.9"/>
<path d="M980.3 1330.7 985.1 1330.7 987 1343.6"/>
<path d="M980.3 1330.7 981.1 1343.6"/>
<path d="M1197 1329.9 1195.5 1344.4"/>
<path d="M1192.1 1331.1 1191 1344.4"/>
<path d="M1055.4 1334.4 L1055.4 1319.6 Q1057.2 1306.7 1070.1 1305.9 L1072 1305.9 L1072 1328.8 L1069 1330.7 L1069 1334.8"/>
<path d="M1239.5 1339.9 L1239.5 1301.1 Q1242.1 1286.3 1253.9 1284.5 L1256.8 1284.5 L1256.8 1306.7 L1253.1 1308.9 L1253.1 1325.1"/>
<rect x="1223.6" y="1341" width="4.4" height="3.3"/>
<path d="M1284.9 1319.2 1284.9 1190.3 1290.9 1190.3 1290.9 1319.2" stroke-width="1.3"/>
<path d="M1284.9 1190.3 1290.9 1190.3" stroke-width="2.2"/>
<path d="M1284.9 1286.3 1290.9 1286.3"/>
<path d="M1402.6 1319.2 1402.6 1190.3 1408.6 1190.3 1408.6 1319.2" stroke-width="1.3"/>
<path d="M1402.6 1190.3 1408.6 1190.3" stroke-width="2.2"/>
<path d="M1402.6 1286.3 1408.6 1286.3"/>
<path d="M1461.4 1319.2 1461.4 1190.3 1467.3 1190.3 1467.3 1319.2" stroke-width="1.3"/>
<path d="M1461.4 1190.3 1467.3 1190.3" stroke-width="2.2"/>
<path d="M1461.4 1286.3 1467.3 1286.3"/>
<path d="M1579.5 1319.2 1579.5 1190.3 1585.4 1190.3 1585.4 1319.2" stroke-width="1.3"/>
<path d="M1579.5 1190.3 1585.4 1190.3" stroke-width="2.2"/>
<path d="M1579.5 1286.3 1585.4 1286.3"/>
<path d="M1639.3 1319.2 1639.3 1190.3 1645.4 1190.3 1645.4 1319.2" stroke-width="1.3"/>
<path d="M1639.3 1190.3 1645.4 1190.3" stroke-width="2.2"/>
<path d="M1639.3 1286.3 1645.4 1286.3"/>
<path d="M1757.1 1319.2 1757.1 1190.3 1763.3 1190.3 1763.3 1319.2" stroke-width="1.3"/>
<path d="M1757.1 1190.3 1763.3 1190.3" stroke-width="2.2"/>
<path d="M1757.1 1286.3 1763.3 1286.3"/>
<path d="M1271.5 1287.9 Q1347.2 1298.1 1433.2 1285.3"/>
<path d="M1433.2 1285.3 Q1433.2 1315.5 1409.5 1315.5"/>
<path d="M1430.4 1285.7 Q1430.4 1312.5 1409.5 1312.5"/>
<path d="M1430.4 1285.7 1433.2 1285.3"/>
<path d="M1266.6 1315.5 1409.5 1315.5"/>
<path d="M1280 1312.5 1409.5 1312.5"/>
<path d="M1271.5 1287.9 L1267.8 1287.1 C1267.8 1294.2 1259.7 1302.1 1261.3 1308.6 C1262.1 1313.9 1263.3 1315.5 1266.6 1315.5"/>
<path d="M1271.5 1287.9 1274.7 1315.1"/>
<path d="M1272.7 1299.9 Q1279.4 1305 1279.4 1311.1 L1284.6 1311.1"/>
<path d="M1448 1287.9 Q1523.7 1298.1 1609.6 1285.3"/>
<path d="M1609.6 1285.3 Q1609.6 1315.5 1586 1315.5"/>
<path d="M1606.9 1285.7 Q1606.9 1312.5 1586 1312.5"/>
<path d="M1606.9 1285.7 1609.6 1285.3"/>
<path d="M1443.1 1315.5 1586 1315.5"/>
<path d="M1456.5 1312.5 1586 1312.5"/>
<path d="M1448 1287.9 L1444.2 1287.1 C1444.2 1294.2 1436.2 1302.1 1437.7 1308.6 C1438.5 1313.9 1439.7 1315.5 1443.1 1315.5"/>
<path d="M1448 1287.9 1451.1 1315.1"/>
<path d="M1449.2 1299.9 Q1455.9 1305 1455.9 1311.1 L1461 1311.1"/>
<path d="M1626 1287.9 Q1701.7 1298.1 1787.7 1285.3"/>
<path d="M1787.7 1285.3 Q1787.7 1315.5 1764 1315.5"/>
<path d="M1784.9 1285.7 Q1784.9 1312.5 1764 1312.5"/>
<path d="M1784.9 1285.7 1787.7 1285.3"/>
<path d="M1621.1 1315.5 1764 1315.5"/>
<path d="M1634.5 1312.5 1764 1312.5"/>
<path d="M1626 1287.9 L1622.3 1287.1 C1622.3 1294.2 1614.2 1302.1 1615.8 1308.6 C1616.6 1313.9 1617.8 1315.5 1621.1 1315.5"/>
<path d="M1626 1287.9 1629.2 1315.1"/>
<path d="M1627.2 1299.9 Q1633.9 1305 1633.9 1311.1 L1639.1 1311.1"/>
<rect x="1295.2" y="1303.4" width="4.9" height="13.8"/>
<rect x="1392.4" y="1303.4" width="4.9" height="13.8"/>
<rect x="1472" y="1303.4" width="4.9" height="13.8"/>
<rect x="1569.2" y="1303.4" width="4.9" height="13.8"/>
<rect x="1650.1" y="1303.4" width="4.9" height="13.8"/>
<rect x="1747.3" y="1303.4" width="4.9" height="13.8"/>
<path d="M1327.3 1319.2 1327.3 1270.1 1816.3 1268.5"/>
<path d="M1327.3 1276.8 1674.3 1276.4"/>
<path d="M1370.1 1276.8 1370.1 1290.2" stroke-width="1"/>
<path d="M1388.3 1276.8 1388.3 1290.2" stroke-width="1"/>
<path d="M1564.3 1276.8 1564.3 1290.2" stroke-width="1"/>
<rect x="1348.4" y="1255.3" width="108.4" height="14.8"/>
<path d="M1348.4 1256.7 1456.9 1256.7"/>
<path d="M1350.4 1264.6 1454.9 1264.6"/>
<path d="M1350.4 1256.7 1350.4 1264.6" stroke-width="1.6"/>
<path d="M1363.5 1256.7 1363.5 1264.6" stroke-width="1.6"/>
<path d="M1376.5 1256.7 1376.5 1264.6" stroke-width="1.6"/>
<path d="M1389.6 1256.7 1389.6 1264.6" stroke-width="1.6"/>
<path d="M1402.6 1256.7 1402.6 1264.6" stroke-width="1.6"/>
<path d="M1415.7 1256.7 1415.7 1264.6" stroke-width="1.6"/>
<path d="M1428.8 1256.7 1428.8 1264.6" stroke-width="1.6"/>
<path d="M1441.8 1256.7 1441.8 1264.6" stroke-width="1.6"/>
<path d="M1454.9 1256.7 1454.9 1264.6" stroke-width="1.6"/>
<path d="M1350.4 1264.6 1350.4 1270.1" stroke-width="1"/>
<path d="M1376 1264.6 1376 1270.1" stroke-width="1"/>
<path d="M1429.3 1264.6 1429.3 1270.1" stroke-width="1"/>
<path d="M1454.9 1264.6 1454.9 1270.1" stroke-width="1"/>
<path d="M1504.2 1270.1 1504.2 1208.4"/>
<path d="M1522.3 1270.1 1522.3 1208.4"/>
<path d="M1503.8 1208.4 1522.7 1208.4" stroke-width="2"/>
<path d="M1504.2 1208.4 C1504.2 1187.1 1513 1178.8 1525.9 1177.3 L1525.9 1205.5 L1522.3 1206"/>
<path d="M1524.3 1177.9 1524.3 1205.7" stroke-width="0.9"/>
<path d="M1570.2 1269.1 1570.2 1208.4"/>
<path d="M1587 1269.1 1587 1208.4"/>
<path d="M1569.8 1208.4 1587.4 1208.4" stroke-width="2"/>
<path d="M1570.2 1208.4 C1570.2 1187.1 1579.1 1178.8 1592.3 1177.3 L1592.3 1205.5 L1587 1206"/>
<path d="M1590.7 1177.9 1590.7 1205.7" stroke-width="0.9"/>
<path d="M1692.5 1268.5 1692.5 1200.5"/>
<path d="M1710.8 1268.5 1710.8 1200.5"/>
<path d="M1692.1 1200.5 1711.2 1200.5" stroke-width="2"/>
<path d="M1692.5 1200.5 C1692.5 1179.2 1701.4 1171 1714.4 1169.4 L1714.4 1197.6 L1710.8 1198.2"/>
<path d="M1712.8 1170 1712.8 1197.8" stroke-width="0.9"/>
<path d="M1532.4 1270.1 1532.4 1264 1550.5 1254.7 1568.6 1264 1568.6 1270.1"/>
<path d="M1535.7 1270.1 1535.7 1264.6" stroke-width="0.9"/>
<path d="M1565.3 1270.1 1565.3 1264.6" stroke-width="0.9"/>
<path d="M1602.4 1268.5 1585.2 1049.1 1652.7 1043.8 1670 1268.5"/>
<path d="M1594.5 1268.5 1580.7 1083.2 1587.6 1083.2"/>
<path d="M1656.6 1083.2 1662.5 1083.2 1676.3 1227.1"/>
<path d="M1587.6 1203.5 1593.5 1268.5" stroke-width="0.9"/>
<path d="M1671.8 1268.5 1671.8 1227.1 1692.5 1227.1"/>
<path d="M1710.8 1227.1 1715.7 1227.1 1715.7 1262.6"/>
<path d="M1674.3 1268.5 1674.3 1292.2"/>
<path d="M1690.1 1268.5 1690.1 1292.2"/>
<rect x="1692.5" y="1280.8" width="9.9" height="11.4" stroke-width="1.5"/>
<rect x="1714.4" y="1269.5" width="9.5" height="8.5" stroke-width="1.5"/>
<rect x="1714.4" y="1280.8" width="9.5" height="10.4" stroke-width="1.5"/>
<rect x="1729.5" y="1269.5" width="9.5" height="8.5" stroke-width="1.5"/>
<rect x="1729.5" y="1280.8" width="9.5" height="10.4" stroke-width="1.5"/>
<rect x="1745.3" y="1269.5" width="9.5" height="8.5" stroke-width="1.5"/>
<rect x="1745.3" y="1280.8" width="9.5" height="10.4" stroke-width="1.5"/>
<rect x="1765" y="1280.8" width="12.8" height="9.5" stroke-width="1.5"/>
<rect x="1783.8" y="1269.5" width="9.9" height="9.3" stroke-width="1.5"/>
<rect x="1783.8" y="1281.4" width="9.9" height="34.9" stroke-width="1.5"/>
<path d="M1783.8 1304 1793.6 1304"/>
<rect x="1799.5" y="1269.5" width="9.9" height="9.3" stroke-width="1.5"/>
<rect x="1799.5" y="1281.4" width="9.9" height="34.9" stroke-width="1.5"/>
<path d="M1799.5 1304 1809.4 1304"/>
<path d="M1781.8 1268.5 1781.8 1316.8" stroke-width="1.6"/>
<path d="M1810.8 1268.5 1810.8 1316.8"/>
<path d="M1752.2 1268.5 1752.2 1216.3 1810.4 1216.3 1810.4 1268.5"/>
<path d="M1773.9 1216.3 1773.9 1268.5" stroke-width="0.9"/>
<rect x="1764" y="1222.6" width="7.9" height="20.9"/>
<rect x="1777.4" y="1222.6" width="11.8" height="20.9"/>
<rect x="1793.6" y="1222.6" width="11.8" height="20.9"/>
<rect x="1815.3" y="1207.4" width="42.4" height="6.9"/>
<path d="M1815.3 1214.3 1815.3 1316.2"/>
<path d="M1855.7 1214.3 1855.7 1273.5 1815.3 1273.5"/>
<rect x="1825.5" y="1224.2" width="15.8" height="19.3"/>
<path d="M1823.2 1273.5 1823.2 1316.2"/>
<path d="M1846.8 1273.5 1846.8 1316.2"/>
<path d="M1853.7 1273.5 1853.7 1319.2"/>
<path d="M1823.2 1277.4 1846.8 1305"/>
<path d="M1846.8 1277.4 1823.2 1305"/>
<path d="M1823.2 1277.4 1846.8 1277.4"/>
<path d="M1823.2 1305 1846.8 1305"/>
<rect x="1766.2" y="1183.4" width="2.2" height="25" stroke-width="1" fill="#231f20"/>
<rect x="1770.5" y="1197.6" width="6.3" height="17.7"/>
<path d="M1770 1197.6 A3.7 4.3 0 0 1 1777.4 1197.6"/>
<path d="M1786.7 1215.3 1790.3 1194.6 1796.2 1194.6 1799.5 1215.3"/>
<rect x="1788.7" y="1183.8" width="9.5" height="10.8" stroke-width="1.6"/>
<path d="M1785.7 1215.7 1800.9 1215.7" stroke-width="1.6"/>
<path d="M1769 1215.7 1778.4 1215.7" stroke-width="1.6"/>
<path d="M1918.2 1340.7 1927.4 1317.7 1927.4 1309.6 1936.7 1309.6 1936.7 1317.7 1939.3 1340.7"/>
<circle cx="1941.5" cy="1330.7" r="11.1"/>
<circle cx="1941.5" cy="1330.7" r="5.5"/>
<path d="M1931.1 1321.4 1935.6 1327" stroke-width="2"/>
<path d="M1929.7 1333.3 1934.8 1337" stroke-width="2"/>
<path d="M1981.1 1338.4 C1991.8 1338.6 2022.6 1339.3 2045.7 1339.2 C2068.9 1339.1 2093.8 1338.9 2119.7 1337.7 C2145.6 1336.5 2187.5 1332.8 2201 1331.8"/>
<path d="M1981.1 1336.2 1995.8 1335.5 2008.8 1338.4"/>
<path d="M2195.5 1328.8 2201 1328.8 2201 1334.8"/>
<path d="M2178.8 1334.4 2178.8 1308.5 2259.4 1308.5 2259.4 1333.6"/>
<path d="M2207.7 1335.7 L2207.7 1293.2 Q2209.4 1278.4 2223.6 1277.3 L2226.4 1277.3 L2226.4 1298.7 L2222.5 1302 L2222.5 1335.7"/>
<path d="M2343.8 1330.7 L2343.8 1291.1 Q2345.5 1275.8 2359.7 1274.3 L2362.5 1274.3 L2362.5 1297.6 L2358.6 1299.3 L2358.6 1319.4"/>
<path d="M2387.3 1304.1 L2387.3 1275.2 Q2388 1266.5 2396 1265.4 L2397.8 1265.4 L2397.8 1277.3 L2395.6 1278.9 L2395.6 1304.1"/>
<path d="M2442.4 1302 L2442.4 1273.6 Q2443.1 1264.9 2452 1263.8 L2453.7 1263.8 L2453.7 1275.8 L2451.6 1277.3 L2451.6 1302"/>
<path d="M2558.5 1296.9 L2558.5 1271 Q2559.1 1262.3 2568.1 1261.2 L2569.8 1261.2 L2569.8 1273.2 L2567.6 1274.7 L2567.6 1296.9"/>
<rect x="2457.7" y="1292.2" width="51.2" height="8.1" stroke-width="1.6"/>
<path d="M2457.7 1294.1 2508.8 1294.1"/>
<rect x="2539.8" y="1277.6" width="13.3" height="2.2"/>
<path d="M2540.8 1279.7 2541.3 1298"/>
<path d="M2552 1279.7 2551.5 1298"/>
<path d="M2537.4 1298 2555.4 1298" stroke-width="1.6"/>
<rect x="2567.6" y="1276.5" width="13.1" height="2.2"/>
<path d="M2568.7 1278.6 2569.2 1295.9"/>
<path d="M2579.6 1278.6 2579.2 1295.9"/>
<path d="M2565.2 1295.9 2583.1 1295.9" stroke-width="1.6"/>
<rect x="2661.3" y="1271.5" width="13.1" height="2.2"/>
<path d="M2662.4 1273.6 2662.8 1291.5"/>
<path d="M2673.2 1273.6 2672.8 1291.5"/>
<path d="M2658.9 1291.5 2676.7 1291.5" stroke-width="1.6"/>
<rect x="2661.6" y="1271.3" width="12.7" height="2.3"/>
<path d="M2662.7 1273.6 2663.2 1290.6"/>
<path d="M2673.1 1273.6 2672.7 1290.6"/>
<path d="M2659.1 1290.6 2676.8 1290.6" stroke-width="1.6"/>
<rect x="2689.4" y="1270.2" width="12.7" height="2.3"/>
<path d="M2690.6 1272.5 2691 1289.5"/>
<path d="M2701 1272.5 2700.5 1289.5"/>
<path d="M2687 1289.5 2704.6 1289.5" stroke-width="1.6"/>
<path d="M2710.3 1289.5 L2710.3 1219.7 A2.8 2.8 0 0 1 2715.9 1219.7 L2715.9 1289.5"/>
<path d="M2713.1 1219.3 2713.1 1289.5" stroke-width="0.8"/>
<path d="M2780.5 1282.7 L2780.5 1216.3 A2.8 2.8 0 0 1 2786.4 1216.3 L2786.4 1282.7"/>
<path d="M2783.4 1215.9 2783.4 1282.7" stroke-width="0.8"/>
<path d="M2717.8 1289.5 2717.8 1264.6 2726.8 1264.6 2726.8 1268 2732 1274.7"/>
<circle cx="2739.3" cy="1273.6" r="8.6"/>
<circle cx="2739.3" cy="1273.6" r="3.2"/>
<path d="M2747.2 1268 2749.5 1261.6 2752.9 1264.6 2756.3 1261.2 2757.4 1268 2754 1272.5 2757.4 1277 2757.4 1286.1"/>
<rect x="2757.4" y="1275.9" width="14.3" height="10.2"/>
<path d="M2717.8 1284.3 2759.7 1286.1"/>
<path d="M2779.4 1278.1 C2780.6 1277.6 2784.1 1275.9 2786.8 1274.7 C2789.6 1273.6 2792.9 1271.3 2795.9 1271.3 C2798.9 1271.3 2802.7 1273.6 2805 1274.7 C2807.2 1275.9 2808.7 1277.6 2809.5 1278.1"/>
<path d="M2779.4 1278.1 2779.4 1282.7 2809.5 1282 2883.1 1279.7"/>
<path d="M2809.5 1277 2883.1 1278.1"/>
<path d="M2786.8 1276.6 2807.2 1276.6" stroke-width="1.8"/>
<path d="M2759.7 1286.7 2865 1282"/>
<path d="M2777.8 1342.2 C2780.2 1337.5 2784.3 1338.8 2785.9 1342.6 C2781.8 1344.3 2780.6 1340.9 2779.3 1340.7" stroke-width="1.1"/>
<path d="M2783.6 1338.9 C2785.8 1344.5 2789.3 1342.9 2790.7 1338.5 C2787.2 1336.5 2786.1 1340.5 2785.1 1340.4" stroke-width="1.1"/>
<path d="M2788.7 1342 C2791.5 1335.5 2796.1 1337.4 2797.9 1342.4 C2793.3 1344.8 2791.9 1340.1 2790.2 1340.5" stroke-width="1.1"/>
<path d="M2795.3 1341.2 C2797.4 1335.8 2800.9 1337.4 2802.3 1341.6 C2798.8 1343.5 2797.8 1339.7 2796.8 1339.7" stroke-width="1.1"/>
<path d="M2800.3 1341 C2802.7 1335.3 2806.6 1336.9 2808.1 1341.4 C2804.2 1343.4 2803.1 1339.3 2801.8 1339.5" stroke-width="1.1"/>
<path d="M2805.9 1340.3 C2809 1335.6 2814.1 1336.9 2816.1 1340.7 C2811 1342.3 2809.5 1339 2807.4 1338.8" stroke-width="1.1"/>
<path d="M2816.3 1339.9 C2819.1 1334.2 2823.8 1335.8 2825.7 1340.3 C2821 1342.4 2819.6 1338.3 2817.8 1338.4" stroke-width="1.1"/>
<path d="M2823 1339.3 C2825.8 1334 2830.3 1335.5 2832.2 1339.7 C2827.6 1341.6 2826.2 1337.8 2824.5 1337.8" stroke-width="1.1"/>
<path d="M2829.6 1335.5 C2831.7 1341.9 2835.2 1340.1 2836.6 1335.1 C2833.1 1332.8 2832.1 1337.4 2831.1 1337" stroke-width="1.1"/>
<path d="M2841.2 1335 C2843.8 1340.6 2848 1339 2849.7 1334.6 C2845.5 1332.5 2844.2 1336.6 2842.7 1336.5" stroke-width="1.1"/>
<path d="M2847.3 1337.9 C2850 1331.9 2854.6 1333.6 2856.4 1338.3 C2851.9 1340.4 2850.5 1336.2 2848.8 1336.4" stroke-width="1.1"/>
<path d="M2853.9 1334 C2856.6 1339.9 2861.2 1338.2 2863 1333.6 C2858.4 1331.5 2857.1 1335.7 2855.4 1335.5" stroke-width="1.1"/>
<path d="M2860.5 1337 C2862.6 1331 2866.2 1332.7 2867.7 1337.4 C2864.1 1339.6 2863 1335.3 2862 1335.5" stroke-width="1.1"/>
<path d="M2865.6 1333.3 C2868.4 1338.9 2873.1 1337.3 2875 1332.9 C2870.3 1330.9 2868.9 1334.9 2867.1 1334.8" stroke-width="1.1"/>
<path d="M2872.3 1332.9 C2875.3 1338.4 2880.3 1336.8 2882.3 1332.5 C2877.3 1330.5 2875.8 1334.4 2873.8 1334.4" stroke-width="1.1"/>
<path d="M2879.5 1335.4 C2882 1330.4 2886.1 1331.8 2887.8 1335.7 C2883.7 1337.5 2882.4 1334 2881 1333.9" stroke-width="1.1"/>
<path d="M2885.5 1332.1 C2888.4 1337.1 2893.2 1335.7 2895.1 1331.8 C2890.3 1330 2888.9 1333.6 2887 1333.6" stroke-width="1.1"/>
<path d="M2891 1331.4 C2893.7 1337.7 2898.2 1335.9 2900 1330.9 C2895.5 1328.6 2894.2 1333.2 2892.5 1332.9" stroke-width="1.1"/>
<path d="M2897.5 1334.6 C2899.9 1328 2903.8 1329.9 2905.4 1335.1 C2901.4 1337.5 2900.3 1332.7 2899 1333.1" stroke-width="1.1"/>
<path d="M2903.2 1331 C2905.9 1335.8 2910.3 1334.4 2912.1 1330.6 C2907.6 1328.9 2906.3 1332.3 2904.7 1332.5" stroke-width="1.1"/>
<path d="M2909.6 1333.5 C2911.8 1328 2915.5 1329.5 2917 1333.9 C2913.3 1335.9 2912.2 1331.9 2911.1 1332" stroke-width="1.1"/>
<path d="M2915.9 1330.2 C2919.2 1334.8 2924.5 1333.5 2926.7 1329.8 C2921.3 1328.2 2919.7 1331.5 2917.4 1331.7" stroke-width="1.1"/>
<path d="M2923.7 1329.5 C2926.1 1334.7 2930.2 1333.2 2931.8 1329.1 C2927.8 1327.2 2926.5 1331 2925.2 1331" stroke-width="1.1"/>
<path d="M2929.6 1332.1 C2932.3 1326.7 2936.9 1328.2 2938.7 1332.5 C2934.1 1334.4 2932.8 1330.6 2931.1 1330.6" stroke-width="1.1"/>
<path d="M2936.1 1331.7 C2939.3 1326.2 2944.7 1327.8 2946.8 1332.1 C2941.5 1334 2939.9 1330.1 2937.6 1330.2" stroke-width="1.1"/></g>
<g fill="none" stroke="#231f20" stroke-width="1.2" stroke-linejoin="round"><path d="M201.1 1712.8 C201.2 1710.6 201.1 1703.8 201.8 1699.4 C202.4 1695 203.2 1691 205 1686.3 C206.9 1681.6 209.6 1675.8 212.7 1671.1 C215.8 1666.3 219.6 1662 223.6 1658 C227.5 1654 231.9 1650.4 236.6 1647.1 C241.3 1643.8 246.1 1641.1 251.9 1638.4 C257.7 1635.7 264.6 1633.1 271.5 1630.8 C278.4 1628.4 283.1 1626.8 293.2 1624.2 C303.4 1621.7 318.6 1618.4 332.4 1615.5 C346.2 1612.6 361.5 1609.5 376 1606.8 C390.5 1604.2 405 1601.7 419.5 1599.6 C434.1 1597.6 448.6 1596 463.1 1594.4 C477.6 1592.8 492.1 1591.4 506.7 1590.1 C521.2 1588.7 535.7 1587.7 550.2 1586.6 C564.7 1585.5 579.4 1584.4 593.8 1583.5 C608.1 1582.6 621.9 1582 636.2 1581.1 C650.6 1580.3 627.7 1581.3 680 1578.5 C732.3 1575.8 884.3 1567.5 950 1564.6 C1015.7 1561.7 1023 1562 1074.2 1561.1 C1125.4 1560.2 1226.7 1559.7 1257.1 1559.4" stroke-width="1.3"/>
<path d="M201.1 1712.8 C201.2 1715 201.1 1721.8 201.8 1726.2 C202.4 1730.6 203.2 1734.6 205 1739.3 C206.9 1744 209.6 1749.8 212.7 1754.5 C215.8 1759.3 219.6 1763.6 223.6 1767.6 C227.5 1771.6 231.9 1775.2 236.6 1778.5 C241.3 1781.8 246.1 1784.5 251.9 1787.2 C257.7 1789.9 264.6 1792.5 271.5 1794.8 C278.4 1797.2 283.1 1798.8 293.2 1801.4 C303.4 1803.9 318.6 1807.2 332.4 1810.1 C346.2 1813 361.5 1816.1 376 1818.8 C390.5 1821.4 405 1823.9 419.5 1826 C434.1 1828 448.6 1829.6 463.1 1831.2 C477.6 1832.8 492.1 1834.2 506.7 1835.5 C521.2 1836.9 535.7 1837.9 550.2 1839 C564.7 1840.1 579.4 1841.2 593.8 1842.1 C608.1 1843 621.9 1843.6 636.2 1844.5 C650.6 1845.3 627.7 1844.3 680 1847.1 C732.3 1849.8 884.3 1858.1 950 1861 C1015.7 1863.9 1023 1863.6 1074.2 1864.5 C1125.4 1865.4 1226.7 1865.9 1257.1 1866.2" stroke-width="1.3"/>
<path d="M1257.1 1559.4 1814.8 1559.4" stroke-width="1.3"/>
<path d="M1257.1 1866.2 1814.8 1866.2" stroke-width="1.3"/>
<path d="M636.2 1581.1 636.2 1844.5"/>
<path d="M636.2 1587.2 C688.5 1584.5 877 1574.2 950 1570.9 C1023 1567.6 1027.4 1568.3 1074.2 1567.4 C1121.1 1566.5 1204.9 1565.9 1231 1565.6"/>
<path d="M636.2 1838.4 C688.5 1841.1 877 1851.4 950 1854.7 C1023 1858 1027.4 1857.3 1074.2 1858.2 C1121.1 1859.1 1204.9 1859.7 1231 1860"/>
<path d="M636.2 1592.7 C688.5 1589.9 877 1579.4 950 1576.1 C1023 1572.7 1027.4 1573.5 1074.2 1572.6 C1121.1 1571.7 1204.9 1571.2 1231 1570.9"/>
<path d="M636.2 1832.9 C688.5 1835.7 877 1846.2 950 1849.5 C1023 1852.9 1027.4 1852.1 1074.2 1853 C1121.1 1853.9 1204.9 1854.4 1231 1854.7"/>
<path d="M1231 1559.4 1231 1570.9"/>
<path d="M1231 1866.2 1231 1854.7"/>
<path d="M1231 1567 1257.1 1567.7"/>
<path d="M1231 1858.6 1257.1 1857.9"/>
<path d="M1257.1 1559.4 1257.1 1866.2"/>
<rect x="1814.8" y="1555.6" width="43" height="314.4"/>
<path d="M1815.5 1570.5 1848.6 1596.7 1858 1596.7"/>
<path d="M1815.5 1855.1 1848.6 1828.9 1858 1828.9"/>
<path d="M1848.6 1596.7 1848.6 1828.9"/>
<path d="M1815.5 1570.5 1815.5 1631.5 1821.8 1631.5 1823.2 1624.5 1823.2 1577.5" stroke-width="1"/>
<path d="M1815.5 1855.1 1815.5 1794.1 1821.8 1794.1 1823.2 1801.1 1823.2 1848.1" stroke-width="1"/>
<path d="M1857.6 1559.6 C1879.5 1559.6 1949.7 1559.2 1989 1559.6 C2028.4 1560 2058.7 1560.8 2093.6 1562.2 C2128.4 1563.6 2163.2 1565.9 2198.1 1568.2 C2232.9 1570.5 2278.9 1574.4 2302.6 1576.1 C2326.3 1577.8 2334.2 1578 2340.5 1578.4" stroke-width="1.3"/>
<path d="M1857.6 1866 C1879.5 1866 1949.7 1866.4 1989 1866 C2028.4 1865.6 2058.7 1864.8 2093.6 1863.4 C2128.4 1862 2163.2 1859.7 2198.1 1857.4 C2232.9 1855.1 2278.9 1851.2 2302.6 1849.5 C2326.3 1847.8 2334.2 1847.6 2340.5 1847.2" stroke-width="1.3"/>
<path d="M1857.6 1566.1 C1879.5 1566.2 1949.7 1566 1989 1566.4 C2028.4 1566.8 2058.7 1567.4 2093.6 1568.7 C2128.4 1570.1 2163.2 1572.2 2198.1 1574.5 C2232.9 1576.8 2274.7 1580.2 2302.6 1582.3 C2330.5 1584.4 2354.9 1586.3 2365.3 1587"/>
<path d="M1857.6 1859.5 C1879.5 1859.4 1949.7 1859.6 1989 1859.2 C2028.4 1858.8 2058.7 1858.2 2093.6 1856.9 C2128.4 1855.5 2163.2 1853.4 2198.1 1851.1 C2232.9 1848.8 2274.7 1845.4 2302.6 1843.3 C2330.5 1841.2 2354.9 1839.3 2365.3 1838.6"/>
<path d="M1875.4 1567.4 C1894.3 1567.5 1952.7 1567.3 1989 1567.7 C2025.4 1568.1 2058.7 1568.7 2093.6 1570 C2128.4 1571.4 2163.2 1573.5 2198.1 1575.8 C2232.9 1578.1 2274.7 1581.5 2302.6 1583.6 C2330.5 1585.8 2354.9 1587.8 2365.3 1588.6" stroke-width="0.9"/>
<path d="M1875.4 1858.2 C1894.3 1858.1 1952.7 1858.3 1989 1857.9 C2025.4 1857.5 2058.7 1856.9 2093.6 1855.6 C2128.4 1854.2 2163.2 1852.1 2198.1 1849.8 C2232.9 1847.5 2274.7 1844.1 2302.6 1842 C2330.5 1839.8 2354.9 1837.8 2365.3 1837" stroke-width="0.9"/>
<path d="M1875.4 1560.4 1875.4 1567.4"/>
<path d="M1875.4 1865.2 1875.4 1858.2"/>
<path d="M2340.5 1578.4 2340.5 1583.1"/>
<path d="M2340.5 1847.2 2340.5 1842.5"/>
<path d="M2340.5 1578.4 2366.7 1576.6"/>
<path d="M2340.5 1847.2 2366.7 1849"/>
<path d="M2366.7 1576.6 2366.7 1849"/>
<path d="M2374.3 1584.2 2374.3 1841.4"/>
<path d="M2366.9 1576.6 C2378.6 1577.1 2410.9 1578.3 2437.1 1580 C2463.3 1581.8 2498.1 1584.5 2524.2 1587 C2550.3 1589.5 2570.7 1591.5 2593.9 1594.8 C2617.1 1598.2 2643.3 1603.1 2663.6 1607 C2683.9 1611 2699.7 1614.8 2715.9 1618.4 C2732 1621.9 2741.8 1623.4 2760.4 1628.2 C2779 1633 2807.8 1641 2827.4 1647.2 C2846.9 1653.3 2866.1 1660.5 2877.9 1664.8 C2889.7 1669.2 2892.2 1669.2 2898.1 1673.2 C2904 1677.2 2909.5 1684.1 2913.2 1688.8 C2917 1693.5 2919.1 1697.5 2920.8 1701.5 C2922.5 1705.5 2922.9 1710.9 2923.3 1712.8" stroke-width="1.3"/>
<path d="M2366.9 1849 C2378.6 1848.5 2410.9 1847.3 2437.1 1845.6 C2463.3 1843.8 2498.1 1841.1 2524.2 1838.6 C2550.3 1836.1 2570.7 1834.1 2593.9 1830.8 C2617.1 1827.4 2643.3 1822.5 2663.6 1818.6 C2683.9 1814.6 2699.7 1810.8 2715.9 1807.2 C2732 1803.7 2741.8 1802.2 2760.4 1797.4 C2779 1792.6 2807.8 1784.6 2827.4 1778.4 C2846.9 1772.3 2866.1 1765.1 2877.9 1760.8 C2889.7 1756.4 2892.2 1756.4 2898.1 1752.4 C2904 1748.4 2909.5 1741.5 2913.2 1736.8 C2917 1732.1 2919.1 1728.1 2920.8 1724.1 C2922.5 1720.1 2922.9 1714.7 2923.3 1712.8" stroke-width="1.3"/>
<path d="M2374.4 1584 C2384.8 1584.4 2412.1 1585 2437.1 1586.5 C2462.1 1588 2498.1 1590.7 2524.2 1593.1 C2550.3 1595.5 2570.7 1597.7 2593.9 1600.9 C2617.1 1604.1 2643.3 1608.6 2663.6 1612.3 C2683.9 1616 2699.7 1619.1 2715.9 1623.1 C2732 1627 2741.8 1630.6 2760.4 1635.8 C2779 1641 2807.8 1648.3 2827.4 1654.2 C2846.9 1660.1 2866.9 1667.1 2877.9 1671.2 C2888.8 1675.2 2888.2 1674.9 2893 1678.7 C2897.9 1682.5 2903.4 1689.5 2906.9 1693.9 C2910.4 1698.3 2912.5 1702.1 2914 1705.3 C2915.5 1708.4 2915.5 1711.5 2915.8 1712.8"/>
<path d="M2374.4 1841.6 C2384.8 1841.2 2412.1 1840.6 2437.1 1839.1 C2462.1 1837.6 2498.1 1834.9 2524.2 1832.5 C2550.3 1830.1 2570.7 1827.9 2593.9 1824.7 C2617.1 1821.5 2643.3 1817 2663.6 1813.3 C2683.9 1809.6 2699.7 1806.5 2715.9 1802.5 C2732 1798.6 2741.8 1795 2760.4 1789.8 C2779 1784.6 2807.8 1777.3 2827.4 1771.4 C2846.9 1765.5 2866.9 1758.5 2877.9 1754.4 C2888.8 1750.4 2888.2 1750.7 2893 1746.9 C2897.9 1743.1 2903.4 1736.1 2906.9 1731.7 C2910.4 1727.3 2912.5 1723.5 2914 1720.3 C2915.5 1717.2 2915.5 1714.1 2915.8 1712.8"/>
<path d="M2760.4 1628.2 2760.4 1635.8"/>
<path d="M2760.4 1797.4 2760.4 1789.8"/>
<path d="M2898.1 1673.2 2898.1 1680.7"/>
<path d="M2898.1 1752.4 2898.1 1744.9"/>
<rect x="2923.3" y="1710.3" width="228.6" height="5.1"/>
<path d="M2913.2 1688.8 C2915.8 1690.1 2923.1 1694 2928.4 1696.4 C2933.7 1698.8 2938.5 1701.8 2944.8 1703.2 C2951.1 1704.7 2957.4 1704.3 2966.3 1705.3 C2975.1 1706.2 2992.6 1708.4 2997.9 1709"/>
<path d="M2913.2 1736.8 C2915.8 1735.5 2923.1 1731.6 2928.4 1729.2 C2933.7 1726.8 2938.5 1723.8 2944.8 1722.4 C2951.1 1720.9 2957.4 1721.3 2966.3 1720.3 C2975.1 1719.4 2992.6 1717.2 2997.9 1716.6"/>
<path d="M2944.8 1703.2 2944.8 1710.3"/>
<path d="M2944.8 1722.4 2944.8 1715.3"/>
<path d="M2944.8 1706 2984 1709" stroke-width="0.9"/>
<path d="M2944.8 1719.6 2984 1716.6" stroke-width="0.9"/>
<circle cx="2994.1" cy="1709" r="2.2" stroke-width="1.6"/>
<circle cx="2994.1" cy="1716.6" r="2.2" stroke-width="1.6"/>
<rect x="175.1" y="1710.6" width="30.7" height="4.2" rx="2"/>
<g transform="rotate(-14.2 292.4 1644.3)"><rect x="268" y="1635.4" width="48.8" height="17.8"/><circle cx="278.3" cy="1644.3" r="6.5" stroke-width="1.5"/><circle cx="306.4" cy="1644.3" r="6.5" stroke-width="1.5"/></g>
<g transform="rotate(14.2 292.4 1781.3)"><rect x="268" y="1772.4" width="48.8" height="17.8"/><circle cx="278.3" cy="1781.3" r="6.5" stroke-width="1.5"/><circle cx="306.4" cy="1781.3" r="6.5" stroke-width="1.5"/></g>
<rect x="343.3" y="1651.5" width="38.1" height="22.9"/>
<rect x="343.3" y="1751.3" width="38.1" height="22.9"/>
<circle cx="356" cy="1662.4" r="10.2" stroke-width="1.5"/>
<circle cx="356" cy="1763.2" r="10.2" stroke-width="1.5"/>
<circle cx="356" cy="1662.4" r="7.2"/>
<circle cx="356" cy="1763.2" r="7.2"/>
<rect x="372.7" y="1653.2" width="7.6" height="8.7"/>
<rect x="372.7" y="1763.7" width="7.6" height="8.7"/>
<rect x="372.7" y="1664.1" width="7.6" height="8.7"/>
<rect x="372.7" y="1752.8" width="7.6" height="8.7"/>
<path d="M313.3 1712.4 317.6 1705.5 320.5 1702.9 323.3 1705.5 327.6 1712.4 323.3 1719.4 320.5 1722.2 317.6 1719.4Z" stroke-width="2"/>
<circle cx="320.5" cy="1712.4" r="3.7"/>
<circle cx="339.6" cy="1712.4" r="4.6"/>
<circle cx="339.6" cy="1712.4" r="2.2"/>
<path d="M346.6 1699.8 346.6 1725.5" stroke-width="2.2"/>
<rect x="493.6" y="1688.5" width="27.2" height="48.8" stroke-width="1.5" rx="3"/>
<rect x="495.1" y="1690" width="11.3" height="4.4" stroke-width="1"/>
<rect x="495.1" y="1695.9" width="11.3" height="4.4" stroke-width="1"/>
<rect x="495.1" y="1701.8" width="11.3" height="4.4" stroke-width="1"/>
<rect x="495.1" y="1707.7" width="11.3" height="4.4" stroke-width="1"/>
<rect x="495.1" y="1713.6" width="11.3" height="4.4" stroke-width="1"/>
<rect x="495.1" y="1719.5" width="11.3" height="4.4" stroke-width="1"/>
<rect x="495.1" y="1725.5" width="11.3" height="4.4" stroke-width="1"/>
<rect x="495.1" y="1731.4" width="11.3" height="4.4" stroke-width="1"/>
<rect x="508" y="1690" width="11.3" height="4.4" stroke-width="1"/>
<rect x="508" y="1695.9" width="11.3" height="4.4" stroke-width="1"/>
<rect x="508" y="1701.8" width="11.3" height="4.4" stroke-width="1"/>
<rect x="508" y="1707.7" width="11.3" height="4.4" stroke-width="1"/>
<rect x="508" y="1713.6" width="11.3" height="4.4" stroke-width="1"/>
<rect x="508" y="1719.5" width="11.3" height="4.4" stroke-width="1"/>
<rect x="508" y="1725.5" width="11.3" height="4.4" stroke-width="1"/>
<rect x="508" y="1731.4" width="11.3" height="4.4" stroke-width="1"/>
<path d="M544.8 1707.6 554.1 1707.6"/>
<path d="M544.8 1718.1 554.1 1718.1"/>
<rect x="379.3" y="1710.3" width="154.6" height="5.2" fill="#fff" rx="2"/>
<circle cx="538.9" cy="1712.9" r="5.9" stroke-width="1.5" fill="#fff"/>
<rect x="561.1" y="1697.6" width="25.7" height="30.9" stroke-width="1.5" rx="4"/>
<rect x="563.5" y="1700" width="9.4" height="11.8"/>
<rect x="575" y="1700" width="9.4" height="11.8"/>
<rect x="563.5" y="1714" width="9.4" height="12.2"/>
<rect x="575" y="1714" width="9.4" height="12.2"/>
<path d="M624.7 1707 L624.7 1719 L620.3 1719 A5.9 6 0 0 1 620.3 1707 Z"/>
<circle cx="619" cy="1712.9" r="3.9"/>
<path d="M475.7 1616.2 C479.1 1615.2 487 1612.7 495.8 1610.5 C504.5 1608.3 515.7 1605.4 528.4 1603.1 C541.1 1600.9 559.3 1598.2 572 1597 C584.7 1595.8 595.9 1595.4 604.7 1595.9 C613.4 1596.5 619.2 1597.9 624.3 1600.3 C629.3 1602.7 635.5 1607.1 635.1 1610.5 C634.8 1614 629 1617.6 622.1 1621 C615.2 1624.4 605.7 1627.7 593.8 1630.8 C581.8 1633.9 564.7 1637.5 550.2 1639.5 C535.7 1641.5 518.3 1642.6 506.7 1642.8 C495 1642.9 484.5 1640.6 480.1 1640.1"/>
<path d="M475.7 1809.4 C479.1 1810.4 487 1812.9 495.8 1815.1 C504.5 1817.3 515.7 1820.2 528.4 1822.5 C541.1 1824.7 559.3 1827.4 572 1828.6 C584.7 1829.8 595.9 1830.2 604.7 1829.7 C613.4 1829.1 619.2 1827.7 624.3 1825.3 C629.3 1822.9 635.5 1818.5 635.1 1815.1 C634.8 1811.6 629 1808 622.1 1804.6 C615.2 1801.2 605.7 1797.9 593.8 1794.8 C581.8 1791.7 564.7 1788.1 550.2 1786.1 C535.7 1784.1 518.3 1783 506.7 1782.8 C495 1782.7 484.5 1785 480.1 1785.5"/>
<path d="M475.7 1616.2 480.1 1640.1"/>
<path d="M475.7 1809.4 480.1 1785.5"/>
<path d="M477.6 1617.9 C480.7 1617 487.3 1615 495.8 1612.9 C504.2 1610.9 515.7 1607.8 528.4 1605.5 C541.1 1603.3 559.3 1600.6 572 1599.4 C584.7 1598.2 596.1 1597.8 604.7 1598.3 C613.2 1598.9 618.6 1600.7 623.1 1602.7 C627.5 1604.7 631.9 1607.8 631.3 1610.5 C630.7 1613.3 625.9 1616.3 619.7 1619.3 C613.4 1622.3 605.3 1625.4 593.8 1628.4 C582.2 1631.3 564.7 1635.1 550.2 1637.1 C535.7 1639.1 518 1640.1 506.7 1640.4 C495.3 1640.6 486.1 1638.8 482 1638.5"/>
<path d="M477.6 1807.7 C480.7 1808.6 487.3 1810.6 495.8 1812.7 C504.2 1814.7 515.7 1817.8 528.4 1820.1 C541.1 1822.3 559.3 1825 572 1826.2 C584.7 1827.4 596.1 1827.8 604.7 1827.3 C613.2 1826.7 618.6 1824.9 623.1 1822.9 C627.5 1820.9 631.9 1817.8 631.3 1815.1 C630.7 1812.3 625.9 1809.3 619.7 1806.3 C613.4 1803.3 605.3 1800.2 593.8 1797.2 C582.2 1794.3 564.7 1790.5 550.2 1788.5 C535.7 1786.5 518 1785.5 506.7 1785.2 C495.3 1785 486.1 1786.8 482 1787.1"/>
<path d="M477.6 1617.9 482 1638.5"/>
<path d="M477.6 1807.7 482 1787.1"/>
<path d="M467.5 1627.7 476.6 1627.1"/>
<path d="M467.5 1797.9 476.6 1798.5"/>
<path d="M467.5 1629.7 477 1629"/>
<path d="M467.5 1795.9 477 1796.6"/>
<path d="M467.5 1626.6 467.5 1630.8" stroke-width="1.6"/>
<path d="M467.5 1799 467.5 1794.8" stroke-width="1.6"/>
<rect x="635.1" y="1608.8" width="2.2" height="3.5"/>
<rect x="635.1" y="1813.3" width="2.2" height="3.5"/>
<path d="M487.7 1603.9 492.7 1646.4 498.8 1645.7 493.8 1603.2Z" fill="#fff"/>
<path d="M487.7 1821.7 492.7 1779.2 498.8 1779.9 493.8 1822.4Z" fill="#fff"/>
<circle cx="490.8" cy="1602.9" r="3.5" fill="#fff"/>
<circle cx="490.8" cy="1822.7" r="3.5" fill="#fff"/>
<path d="M491.7 1637.9 497.8 1637.2"/>
<path d="M491.7 1787.7 497.8 1788.4"/>
<path d="M604.5 1590.8 609.2 1633.3 615.3 1632.6 610.5 1590.1Z" fill="#fff"/>
<path d="M604.5 1834.8 609.2 1792.3 615.3 1793 610.5 1835.5Z" fill="#fff"/>
<circle cx="607.5" cy="1589.8" r="3.5" fill="#fff"/>
<circle cx="607.5" cy="1835.8" r="3.5" fill="#fff"/>
<path d="M608.3 1624.8 614.3 1624.1"/>
<path d="M608.3 1800.8 614.3 1801.5"/>
<g transform="rotate(2 663.2 1609.2)"><rect x="639.7" y="1599.4" width="47" height="19.5"/><circle cx="649.3" cy="1609.2" r="6.6" stroke-width="1.5"/><circle cx="677.2" cy="1609.2" r="6.6" stroke-width="1.5"/></g>
<g transform="rotate(-2 663.2 1816.4)"><rect x="639.7" y="1806.6" width="47" height="19.5"/><circle cx="649.3" cy="1816.4" r="6.6" stroke-width="1.5"/><circle cx="677.2" cy="1816.4" r="6.6" stroke-width="1.5"/></g>

<circle cx="650.7" cy="1593.2" r="2"/>
<circle cx="650.7" cy="1832.4" r="2"/>
<circle cx="760.9" cy="1631.9" r="22.2"/>
<rect x="729.3" y="1617.7" width="32.7" height="27.7" fill="#fff" rx="3.5"/>
<path d="M742.4 1618.8 751.5 1618.8 751.5 1624.9 742.4 1624.9 742.4 1618.8"/>
<path d="M742.4 1638.8 751.5 1638.8 751.5 1644.9 742.4 1644.9 742.4 1638.8"/>
<rect x="751.5" y="1612.9" width="21.3" height="37.9" fill="#fff"/>
<rect x="761.5" y="1612.9" width="3.7" height="12.4"/>
<rect x="761.5" y="1638.4" width="3.7" height="12.4"/>
<rect x="762" y="1626.4" width="17.4" height="3.7" fill="#fff"/>
<rect x="768.5" y="1633.6" width="10.9" height="3.7" fill="#fff"/>
<rect x="775" y="1611.8" width="8.7" height="40.7"/>
<path d="M778.3 1614 905.7 1622.1 905.7 1642.3 778.3 1649.7Z" fill="#fff"/>
<path d="M775 1614.4 783.7 1614.4"/>
<path d="M775 1649.7 783.7 1649.7"/>
<path d="M772.8 1617.1 778.3 1617.1"/>
<path d="M772.8 1647.1 778.3 1647.1"/>
<path d="M781.6 1623.2 790.3 1623.6 790.3 1640.1 781.6 1640.6Z"/>
<path d="M785.5 1623.2 785.5 1640.6" stroke-width="0.9"/>
<path d="M794.6 1624.2 814.2 1625.3 814.2 1638.4 794.6 1639.5Z"/>
<path d="M798.5 1624.2 798.5 1639.5" stroke-width="0.9"/>
<path d="M819.7 1625.3 841.4 1626.4 841.4 1637.3 819.7 1638.4Z"/>
<path d="M823.6 1625.3 823.6 1638.4" stroke-width="0.9"/>
<path d="M845.8 1626.6 867.6 1627.7 867.6 1636.2 845.8 1637.3Z"/>
<path d="M849.7 1626.6 849.7 1637.3" stroke-width="0.9"/>
<path d="M872.6 1628.2 893.7 1629.3 893.7 1635.1 872.6 1636Z"/>
<path d="M876.5 1628.2 876.5 1636" stroke-width="0.9"/>
<path d="M785.5 1623.4 785.5 1640.4" stroke-width="0.9"/>
<rect x="893.7" y="1625.3" width="15.2" height="13.5" fill="#fff"/>
<rect x="900.2" y="1621" width="5.4" height="4.4"/>
<rect x="900.2" y="1638.8" width="5.4" height="4.4"/>
<rect x="794.6" y="1670.9" width="116.7" height="84.3" rx="4"/>
<path d="M794.6 1712.7 911.3 1712.7"/>
<path d="M657 1743 L657 1766.7 L654.1 1766.7 C643.6 1766.7 637.8 1759.6 637.8 1754.8 C637.8 1750.1 643.6 1743 654.1 1743 Z"/>
<path d="M883.4 1758.7 L883.4 1781.3 L880.6 1781.3 C870 1781.3 864.3 1774.5 864.3 1770 C864.3 1765.5 870 1758.7 880.6 1758.7 Z"/>
<path d="M985.4 1596.3 C988.9 1595.5 996.1 1593.1 1006.3 1591.4 C1016.4 1589.7 1032.7 1587.5 1046.3 1586.2 C1060 1584.9 1073.1 1583.9 1088.2 1583.8 C1103.3 1583.6 1123 1583.8 1136.9 1585.5 C1150.9 1587.2 1163 1590.7 1171.8 1593.9 C1180.6 1597 1185.9 1601.3 1189.9 1604.3 C1193.8 1607.3 1195.5 1609.4 1195.5 1612 C1195.5 1614.5 1193.8 1616.6 1189.9 1619.7 C1185.9 1622.7 1180.6 1627 1171.8 1630.1 C1163 1633.2 1150.9 1636.8 1136.9 1638.5 C1123 1640.2 1103.3 1640.3 1088.2 1640.2 C1073.1 1640.1 1060 1639 1046.3 1637.8 C1032.7 1636.5 1016.4 1634.2 1006.3 1632.5 C996.1 1630.9 988.9 1628.5 985.4 1627.7"/>
<path d="M985.4 1829.3 C988.9 1830.1 996.1 1832.5 1006.3 1834.2 C1016.4 1835.9 1032.7 1838.1 1046.3 1839.4 C1060 1840.7 1073.1 1841.7 1088.2 1841.8 C1103.3 1842 1123 1841.8 1136.9 1840.1 C1150.9 1838.4 1163 1834.9 1171.8 1831.7 C1180.6 1828.6 1185.9 1824.3 1189.9 1821.3 C1193.8 1818.3 1195.5 1816.2 1195.5 1813.6 C1195.5 1811.1 1193.8 1809 1189.9 1805.9 C1185.9 1802.9 1180.6 1798.6 1171.8 1795.5 C1163 1792.4 1150.9 1788.8 1136.9 1787.1 C1123 1785.4 1103.3 1785.3 1088.2 1785.4 C1073.1 1785.5 1060 1786.6 1046.3 1787.8 C1032.7 1789.1 1016.4 1791.4 1006.3 1793.1 C996.1 1794.7 988.9 1797.1 985.4 1797.9"/>
<path d="M985.4 1596.3 985.4 1627.7"/>
<path d="M985.4 1829.3 985.4 1797.9"/>
<path d="M987.8 1598.3 C990.9 1597.5 996.5 1595.5 1006.3 1593.9 C1016 1592.3 1032.7 1589.9 1046.3 1588.6 C1060 1587.4 1073.1 1586.3 1088.2 1586.2 C1103.3 1586.1 1123 1586.3 1136.9 1587.9 C1150.9 1589.6 1163.2 1593.3 1171.8 1596.3 C1180.3 1599.3 1184.7 1603.2 1188.2 1605.8 C1191.6 1608.4 1192.5 1609.9 1192.5 1612 C1192.5 1614.1 1191.6 1615.6 1188.2 1618.2 C1184.7 1620.8 1180.3 1624.7 1171.8 1627.7 C1163.2 1630.6 1150.9 1634.3 1136.9 1636 C1123 1637.7 1103.3 1637.9 1088.2 1637.8 C1073.1 1637.7 1060 1636.6 1046.3 1635.3 C1032.7 1634.1 1016 1631.7 1006.3 1630.1 C996.5 1628.5 990.9 1626.4 987.8 1625.7"/>
<path d="M987.8 1827.3 C990.9 1828.1 996.5 1830.1 1006.3 1831.7 C1016 1833.3 1032.7 1835.7 1046.3 1837 C1060 1838.2 1073.1 1839.3 1088.2 1839.4 C1103.3 1839.5 1123 1839.3 1136.9 1837.7 C1150.9 1836 1163.2 1832.3 1171.8 1829.3 C1180.3 1826.3 1184.7 1822.4 1188.2 1819.8 C1191.6 1817.2 1192.5 1815.7 1192.5 1813.6 C1192.5 1811.5 1191.6 1810 1188.2 1807.4 C1184.7 1804.8 1180.3 1800.9 1171.8 1797.9 C1163.2 1795 1150.9 1791.3 1136.9 1789.6 C1123 1787.9 1103.3 1787.7 1088.2 1787.8 C1073.1 1787.9 1060 1789 1046.3 1790.3 C1032.7 1791.5 1016 1793.9 1006.3 1795.5 C996.5 1797.1 990.9 1799.2 987.8 1799.9"/>
<path d="M987.8 1598.3 987.8 1625.7"/>
<path d="M987.8 1827.3 987.8 1799.9"/>
<path d="M1007.7 1591.4 1007.7 1632.5" stroke-width="1.6"/>
<path d="M1007.7 1834.2 1007.7 1793.1" stroke-width="1.6"/>
<path d="M1172.8 1597.4 1172.8 1626.6"/>
<path d="M1172.8 1828.2 1172.8 1799"/>
<path d="M973.9 1610.6 985.4 1610.6"/>
<path d="M973.9 1815 985.4 1815"/>
<path d="M973.9 1613.4 985.4 1613.4"/>
<path d="M973.9 1812.2 985.4 1812.2"/>
<rect x="1195.5" y="1610.2" width="2.4" height="3.5"/>
<rect x="1195.5" y="1811.9" width="2.4" height="3.5"/>
<path d="M1073.2 1653.4 L1073.2 1676.8 L1070.3 1676.8 C1060 1676.8 1054.4 1669.8 1054.4 1665.1 C1054.4 1660.5 1060 1653.4 1070.3 1653.4 Z"/>
<rect x="1088.2" y="1670.9" width="117.8" height="84.3" rx="4"/>
<rect x="994.1" y="1710.2" width="209.1" height="4.9" fill="#fff" rx="2"/>
<rect x="994.1" y="1710.2" width="10.5" height="4.9"/>
<path d="M1203.1 1707.1 L1221.3 1707.1 A5.6 5.6 0 0 1 1221.3 1718.6 L1203.1 1718.6"/>
<circle cx="1203.1" cy="1712.7" r="5.9" stroke-width="1.5" fill="#fff"/>
<rect x="1211.1" y="1642" width="32.8" height="34.8"/>
<rect x="1211.1" y="1748.8" width="32.8" height="34.8"/>
<rect x="1214.4" y="1649.6" width="26.2" height="20.2"/>
<rect x="1214.4" y="1755.8" width="26.2" height="20.2"/>
<rect x="1221.6" y="1638.1" width="11.8" height="3.8"/>
<rect x="1221.6" y="1783.6" width="11.8" height="3.8"/>
<rect x="1221.6" y="1676.8" width="11.8" height="4.5"/>
<rect x="1221.6" y="1744.3" width="11.8" height="4.5"/>
<rect x="1224.9" y="1642" width="5.2" height="7.7"/>
<rect x="1224.9" y="1776" width="5.2" height="7.7"/>
<rect x="1224.9" y="1669.8" width="5.2" height="7"/>
<rect x="1224.9" y="1748.8" width="5.2" height="7"/>
<path d="M1257.1 1676.1 L1257.1 1699.4 L1254.3 1699.4 C1243.7 1699.4 1238 1692.4 1238 1687.8 C1238 1683.1 1243.7 1676.1 1254.3 1676.1 Z"/>
<path d="M1257.1 1749.5 L1257.1 1726.2 L1254.3 1726.2 C1243.7 1726.2 1238 1733.2 1238 1737.8 C1238 1742.5 1243.7 1749.5 1254.3 1749.5 Z"/>
<path d="M1271.1 1576.6 C1274.3 1575.8 1280.8 1573.2 1290.1 1571.8 C1299.4 1570.3 1315.1 1568.6 1327.1 1567.9 C1339.1 1567.1 1351.1 1567.1 1362 1567.4 C1372.8 1567.8 1384.1 1568.9 1392.4 1570 C1400.8 1571.2 1406.6 1572.5 1412 1574.4 C1417.5 1576.3 1422 1579.2 1425.1 1581.6 C1428.2 1583.9 1430.5 1586.2 1430.5 1588.5 C1430.5 1590.9 1428.2 1593.2 1425.1 1595.5 C1422 1597.9 1417.5 1600.8 1412 1602.7 C1406.6 1604.6 1400.8 1605.9 1392.4 1607.1 C1384.1 1608.2 1372.8 1609.3 1362 1609.7 C1351.1 1610 1339.1 1610 1327.1 1609.2 C1315.1 1608.5 1299.4 1606.8 1290.1 1605.3 C1280.8 1603.9 1274.3 1601.3 1271.1 1600.5"/>
<path d="M1271.1 1849 C1274.3 1849.8 1280.8 1852.4 1290.1 1853.8 C1299.4 1855.3 1315.1 1857 1327.1 1857.7 C1339.1 1858.5 1351.1 1858.5 1362 1858.2 C1372.8 1857.8 1384.1 1856.7 1392.4 1855.6 C1400.8 1854.4 1406.6 1853.1 1412 1851.2 C1417.5 1849.3 1422 1846.4 1425.1 1844 C1428.2 1841.7 1430.5 1839.4 1430.5 1837.1 C1430.5 1834.7 1428.2 1832.4 1425.1 1830.1 C1422 1827.7 1417.5 1824.8 1412 1822.9 C1406.6 1821 1400.8 1819.7 1392.4 1818.5 C1384.1 1817.4 1372.8 1816.3 1362 1815.9 C1351.1 1815.6 1339.1 1815.6 1327.1 1816.4 C1315.1 1817.1 1299.4 1818.8 1290.1 1820.3 C1280.8 1821.7 1274.3 1824.3 1271.1 1825.1"/>
<path d="M1271.1 1576.6 1271.1 1600.5"/>
<path d="M1271.1 1849 1271.1 1825.1"/>
<path d="M1274.2 1579 C1276.8 1578.2 1281.3 1576 1290.1 1574.6 C1298.9 1573.2 1315.1 1571.4 1327.1 1570.7 C1339.1 1570 1351.1 1569.9 1362 1570.3 C1372.8 1570.6 1384.3 1571.7 1392.4 1572.9 C1400.6 1574 1405.9 1575.5 1410.9 1577.2 C1416 1578.9 1419.8 1581.2 1422.5 1583.1 C1425.1 1585 1426.8 1586.7 1426.8 1588.5 C1426.8 1590.4 1425.1 1592.1 1422.5 1594 C1419.8 1595.9 1416 1598.2 1410.9 1599.9 C1405.9 1601.6 1400.6 1603.1 1392.4 1604.2 C1384.3 1605.4 1372.8 1606.5 1362 1606.8 C1351.1 1607.2 1339.1 1607.1 1327.1 1606.4 C1315.1 1605.7 1298.9 1603.9 1290.1 1602.5 C1281.3 1601.1 1276.8 1598.9 1274.2 1598.1"/>
<path d="M1274.2 1846.6 C1276.8 1847.4 1281.3 1849.6 1290.1 1851 C1298.9 1852.4 1315.1 1854.2 1327.1 1854.9 C1339.1 1855.6 1351.1 1855.7 1362 1855.3 C1372.8 1855 1384.3 1853.9 1392.4 1852.7 C1400.6 1851.6 1405.9 1850.1 1410.9 1848.4 C1416 1846.7 1419.8 1844.4 1422.5 1842.5 C1425.1 1840.6 1426.8 1838.9 1426.8 1837.1 C1426.8 1835.2 1425.1 1833.5 1422.5 1831.6 C1419.8 1829.7 1416 1827.4 1410.9 1825.7 C1405.9 1824 1400.6 1822.5 1392.4 1821.4 C1384.3 1820.2 1372.8 1819.1 1362 1818.8 C1351.1 1818.4 1339.1 1818.5 1327.1 1819.2 C1315.1 1819.9 1298.9 1821.7 1290.1 1823.1 C1281.3 1824.5 1276.8 1826.7 1274.2 1827.5"/>
<path d="M1274.2 1579 1274.2 1598.1"/>
<path d="M1274.2 1846.6 1274.2 1827.5"/>
<path d="M1261.3 1587.7 1271.1 1587.7"/>
<path d="M1261.3 1837.9 1271.1 1837.9"/>
<path d="M1261.3 1589.4 1271.1 1589.4"/>
<path d="M1261.3 1836.2 1271.1 1836.2"/>
<path d="M1261.3 1586.6 1261.3 1590.5" stroke-width="1.6"/>
<path d="M1261.3 1839 1261.3 1835.1" stroke-width="1.6"/>
<rect x="1430.5" y="1587" width="2.8" height="3"/>
<rect x="1430.5" y="1835.5" width="2.8" height="3"/>
<rect x="1284.6" y="1565.7" width="6.5" height="42.7" fill="#fff"/>
<rect x="1284.6" y="1817.2" width="6.5" height="42.7" fill="#fff"/>
<circle cx="1287.9" cy="1565.7" r="3.7" fill="#fff"/>
<circle cx="1287.9" cy="1859.9" r="3.7" fill="#fff"/>
<path d="M1284.6 1600.5 1291.2 1600.5"/>
<path d="M1284.6 1825.1 1291.2 1825.1"/>
<rect x="1294.9" y="1569.2" width="5" height="2.2"/>
<rect x="1294.9" y="1854.3" width="5" height="2.2"/>
<rect x="1294.9" y="1605.7" width="5" height="2.2"/>
<rect x="1294.9" y="1817.7" width="5" height="2.2"/>
<rect x="1402.2" y="1565.7" width="6.5" height="42.7" fill="#fff"/>
<rect x="1402.2" y="1817.2" width="6.5" height="42.7" fill="#fff"/>
<circle cx="1405.5" cy="1565.7" r="3.7" fill="#fff"/>
<circle cx="1405.5" cy="1859.9" r="3.7" fill="#fff"/>
<path d="M1402.2 1600.5 1408.8 1600.5"/>
<path d="M1402.2 1825.1 1408.8 1825.1"/>
<path d="M1447.3 1576.6 C1450.5 1575.8 1456.9 1573.2 1466.3 1571.8 C1475.6 1570.3 1491.3 1568.6 1503.3 1567.9 C1515.3 1567.1 1527.2 1567.1 1538.1 1567.4 C1549 1567.8 1560.3 1568.9 1568.6 1570 C1577 1571.2 1582.8 1572.5 1588.2 1574.4 C1593.7 1576.3 1598.2 1579.2 1601.3 1581.6 C1604.4 1583.9 1606.7 1586.2 1606.7 1588.5 C1606.7 1590.9 1604.4 1593.2 1601.3 1595.5 C1598.2 1597.9 1593.7 1600.8 1588.2 1602.7 C1582.8 1604.6 1577 1605.9 1568.6 1607.1 C1560.3 1608.2 1549 1609.3 1538.1 1609.7 C1527.2 1610 1515.3 1610 1503.3 1609.2 C1491.3 1608.5 1475.6 1606.8 1466.3 1605.3 C1456.9 1603.9 1450.5 1601.3 1447.3 1600.5"/>
<path d="M1447.3 1849 C1450.5 1849.8 1456.9 1852.4 1466.3 1853.8 C1475.6 1855.3 1491.3 1857 1503.3 1857.7 C1515.3 1858.5 1527.2 1858.5 1538.1 1858.2 C1549 1857.8 1560.3 1856.7 1568.6 1855.6 C1577 1854.4 1582.8 1853.1 1588.2 1851.2 C1593.7 1849.3 1598.2 1846.4 1601.3 1844 C1604.4 1841.7 1606.7 1839.4 1606.7 1837.1 C1606.7 1834.7 1604.4 1832.4 1601.3 1830.1 C1598.2 1827.7 1593.7 1824.8 1588.2 1822.9 C1582.8 1821 1577 1819.7 1568.6 1818.5 C1560.3 1817.4 1549 1816.3 1538.1 1815.9 C1527.2 1815.6 1515.3 1815.6 1503.3 1816.4 C1491.3 1817.1 1475.6 1818.8 1466.3 1820.3 C1456.9 1821.7 1450.5 1824.3 1447.3 1825.1"/>
<path d="M1447.3 1576.6 1447.3 1600.5"/>
<path d="M1447.3 1849 1447.3 1825.1"/>
<path d="M1450.4 1579 C1453 1578.2 1457.4 1576 1466.3 1574.6 C1475.1 1573.2 1491.3 1571.4 1503.3 1570.7 C1515.3 1570 1527.2 1569.9 1538.1 1570.3 C1549 1570.6 1560.4 1571.7 1568.6 1572.9 C1576.8 1574 1582.1 1575.5 1587.1 1577.2 C1592.1 1578.9 1596 1581.2 1598.7 1583.1 C1601.3 1585 1603 1586.7 1603 1588.5 C1603 1590.4 1601.3 1592.1 1598.7 1594 C1596 1595.9 1592.1 1598.2 1587.1 1599.9 C1582.1 1601.6 1576.8 1603.1 1568.6 1604.2 C1560.4 1605.4 1549 1606.5 1538.1 1606.8 C1527.2 1607.2 1515.3 1607.1 1503.3 1606.4 C1491.3 1605.7 1475.1 1603.9 1466.3 1602.5 C1457.4 1601.1 1453 1598.9 1450.4 1598.1"/>
<path d="M1450.4 1846.6 C1453 1847.4 1457.4 1849.6 1466.3 1851 C1475.1 1852.4 1491.3 1854.2 1503.3 1854.9 C1515.3 1855.6 1527.2 1855.7 1538.1 1855.3 C1549 1855 1560.4 1853.9 1568.6 1852.7 C1576.8 1851.6 1582.1 1850.1 1587.1 1848.4 C1592.1 1846.7 1596 1844.4 1598.7 1842.5 C1601.3 1840.6 1603 1838.9 1603 1837.1 C1603 1835.2 1601.3 1833.5 1598.7 1831.6 C1596 1829.7 1592.1 1827.4 1587.1 1825.7 C1582.1 1824 1576.8 1822.5 1568.6 1821.4 C1560.4 1820.2 1549 1819.1 1538.1 1818.8 C1527.2 1818.4 1515.3 1818.5 1503.3 1819.2 C1491.3 1819.9 1475.1 1821.7 1466.3 1823.1 C1457.4 1824.5 1453 1826.7 1450.4 1827.5"/>
<path d="M1450.4 1579 1450.4 1598.1"/>
<path d="M1450.4 1846.6 1450.4 1827.5"/>
<path d="M1437.5 1587.7 1447.3 1587.7"/>
<path d="M1437.5 1837.9 1447.3 1837.9"/>
<path d="M1437.5 1589.4 1447.3 1589.4"/>
<path d="M1437.5 1836.2 1447.3 1836.2"/>
<path d="M1437.5 1586.6 1437.5 1590.5" stroke-width="1.6"/>
<path d="M1437.5 1839 1437.5 1835.1" stroke-width="1.6"/>
<rect x="1606.7" y="1587" width="2.8" height="3"/>
<rect x="1606.7" y="1835.5" width="2.8" height="3"/>
<rect x="1460.8" y="1565.7" width="6.5" height="42.7" fill="#fff"/>
<rect x="1460.8" y="1817.2" width="6.5" height="42.7" fill="#fff"/>
<circle cx="1464.1" cy="1565.7" r="3.7" fill="#fff"/>
<circle cx="1464.1" cy="1859.9" r="3.7" fill="#fff"/>
<path d="M1460.8 1600.5 1467.4 1600.5"/>
<path d="M1460.8 1825.1 1467.4 1825.1"/>
<rect x="1471.1" y="1569.2" width="5" height="2.2"/>
<rect x="1471.1" y="1854.3" width="5" height="2.2"/>
<rect x="1471.1" y="1605.7" width="5" height="2.2"/>
<rect x="1471.1" y="1817.7" width="5" height="2.2"/>
<rect x="1578.4" y="1565.7" width="6.5" height="42.7" fill="#fff"/>
<rect x="1578.4" y="1817.2" width="6.5" height="42.7" fill="#fff"/>
<circle cx="1581.7" cy="1565.7" r="3.7" fill="#fff"/>
<circle cx="1581.7" cy="1859.9" r="3.7" fill="#fff"/>
<path d="M1578.4 1600.5 1584.9 1600.5"/>
<path d="M1578.4 1825.1 1584.9 1825.1"/>
<path d="M1623.5 1576.6 C1626.7 1575.8 1633.1 1573.2 1642.4 1571.8 C1651.8 1570.3 1667.5 1568.6 1679.5 1567.9 C1691.4 1567.1 1703.4 1567.1 1714.3 1567.4 C1725.2 1567.8 1736.4 1568.9 1744.8 1570 C1753.1 1571.2 1758.9 1572.5 1764.4 1574.4 C1769.8 1576.3 1774.4 1579.2 1777.5 1581.6 C1780.5 1583.9 1782.9 1586.2 1782.9 1588.5 C1782.9 1590.9 1780.5 1593.2 1777.5 1595.5 C1774.4 1597.9 1769.8 1600.8 1764.4 1602.7 C1758.9 1604.6 1753.1 1605.9 1744.8 1607.1 C1736.4 1608.2 1725.2 1609.3 1714.3 1609.7 C1703.4 1610 1691.4 1610 1679.5 1609.2 C1667.5 1608.5 1651.8 1606.8 1642.4 1605.3 C1633.1 1603.9 1626.7 1601.3 1623.5 1600.5"/>
<path d="M1623.5 1849 C1626.7 1849.8 1633.1 1852.4 1642.4 1853.8 C1651.8 1855.3 1667.5 1857 1679.5 1857.7 C1691.4 1858.5 1703.4 1858.5 1714.3 1858.2 C1725.2 1857.8 1736.4 1856.7 1744.8 1855.6 C1753.1 1854.4 1758.9 1853.1 1764.4 1851.2 C1769.8 1849.3 1774.4 1846.4 1777.5 1844 C1780.5 1841.7 1782.9 1839.4 1782.9 1837.1 C1782.9 1834.7 1780.5 1832.4 1777.5 1830.1 C1774.4 1827.7 1769.8 1824.8 1764.4 1822.9 C1758.9 1821 1753.1 1819.7 1744.8 1818.5 C1736.4 1817.4 1725.2 1816.3 1714.3 1815.9 C1703.4 1815.6 1691.4 1815.6 1679.5 1816.4 C1667.5 1817.1 1651.8 1818.8 1642.4 1820.3 C1633.1 1821.7 1626.7 1824.3 1623.5 1825.1"/>
<path d="M1623.5 1576.6 1623.5 1600.5"/>
<path d="M1623.5 1849 1623.5 1825.1"/>
<path d="M1626.5 1579 C1629.2 1578.2 1633.6 1576 1642.4 1574.6 C1651.3 1573.2 1667.5 1571.4 1679.5 1570.7 C1691.4 1570 1703.4 1569.9 1714.3 1570.3 C1725.2 1570.6 1736.6 1571.7 1744.8 1572.9 C1753 1574 1758.3 1575.5 1763.3 1577.2 C1768.3 1578.9 1772.2 1581.2 1774.8 1583.1 C1777.5 1585 1779.2 1586.7 1779.2 1588.5 C1779.2 1590.4 1777.5 1592.1 1774.8 1594 C1772.2 1595.9 1768.3 1598.2 1763.3 1599.9 C1758.3 1601.6 1753 1603.1 1744.8 1604.2 C1736.6 1605.4 1725.2 1606.5 1714.3 1606.8 C1703.4 1607.2 1691.4 1607.1 1679.5 1606.4 C1667.5 1605.7 1651.3 1603.9 1642.4 1602.5 C1633.6 1601.1 1629.2 1598.9 1626.5 1598.1"/>
<path d="M1626.5 1846.6 C1629.2 1847.4 1633.6 1849.6 1642.4 1851 C1651.3 1852.4 1667.5 1854.2 1679.5 1854.9 C1691.4 1855.6 1703.4 1855.7 1714.3 1855.3 C1725.2 1855 1736.6 1853.9 1744.8 1852.7 C1753 1851.6 1758.3 1850.1 1763.3 1848.4 C1768.3 1846.7 1772.2 1844.4 1774.8 1842.5 C1777.5 1840.6 1779.2 1838.9 1779.2 1837.1 C1779.2 1835.2 1777.5 1833.5 1774.8 1831.6 C1772.2 1829.7 1768.3 1827.4 1763.3 1825.7 C1758.3 1824 1753 1822.5 1744.8 1821.4 C1736.6 1820.2 1725.2 1819.1 1714.3 1818.8 C1703.4 1818.4 1691.4 1818.5 1679.5 1819.2 C1667.5 1819.9 1651.3 1821.7 1642.4 1823.1 C1633.6 1824.5 1629.2 1826.7 1626.5 1827.5"/>
<path d="M1626.5 1579 1626.5 1598.1"/>
<path d="M1626.5 1846.6 1626.5 1827.5"/>
<path d="M1613.7 1587.7 1623.5 1587.7"/>
<path d="M1613.7 1837.9 1623.5 1837.9"/>
<path d="M1613.7 1589.4 1623.5 1589.4"/>
<path d="M1613.7 1836.2 1623.5 1836.2"/>
<path d="M1613.7 1586.6 1613.7 1590.5" stroke-width="1.6"/>
<path d="M1613.7 1839 1613.7 1835.1" stroke-width="1.6"/>
<rect x="1782.9" y="1587" width="2.8" height="3"/>
<rect x="1782.9" y="1835.5" width="2.8" height="3"/>
<rect x="1637" y="1565.7" width="6.5" height="42.7" fill="#fff"/>
<rect x="1637" y="1817.2" width="6.5" height="42.7" fill="#fff"/>
<circle cx="1640.3" cy="1565.7" r="3.7" fill="#fff"/>
<circle cx="1640.3" cy="1859.9" r="3.7" fill="#fff"/>
<path d="M1637 1600.5 1643.5 1600.5"/>
<path d="M1637 1825.1 1643.5 1825.1"/>
<rect x="1647.2" y="1569.2" width="5" height="2.2"/>
<rect x="1647.2" y="1854.3" width="5" height="2.2"/>
<rect x="1647.2" y="1605.7" width="5" height="2.2"/>
<rect x="1647.2" y="1817.7" width="5" height="2.2"/>
<rect x="1754.6" y="1565.7" width="6.5" height="42.7" fill="#fff"/>
<rect x="1754.6" y="1817.2" width="6.5" height="42.7" fill="#fff"/>
<circle cx="1757.9" cy="1565.7" r="3.7" fill="#fff"/>
<circle cx="1757.9" cy="1859.9" r="3.7" fill="#fff"/>
<path d="M1754.6 1600.5 1761.1 1600.5"/>
<path d="M1754.6 1825.1 1761.1 1825.1"/>
<path d="M1480.1 1559.4 1480.1 1568.8"/>
<path d="M1480.1 1866.2 1480.1 1856.8"/>
<rect x="1570.7" y="1555.9" width="11.5" height="3.5"/>
<rect x="1570.7" y="1866.2" width="11.5" height="3.5"/>
<rect x="1896.3" y="1556.6" width="19.2" height="2.8"/>
<rect x="1896.3" y="1866.2" width="19.2" height="2.8"/>
<path d="M1327.9 1661.1 1674.2 1661.1 1674.2 1670.5 1690.2 1670.5 1690.2 1661.1 1691.8 1662.2 1814.8 1662.2"/>
<path d="M1327.9 1764.5 1674.2 1764.5 1674.2 1755.1 1690.2 1755.1 1690.2 1764.5 1691.8 1763.4 1814.8 1763.4"/>
<path d="M1327.9 1661.1 1327.9 1764.5"/>
<path d="M1814.8 1559.4 1814.8 1866.2"/>
<rect x="1370.4" y="1658.3" width="17.4" height="2.8"/>
<rect x="1370.4" y="1764.5" width="17.4" height="2.8"/>
<rect x="1565.5" y="1658.3" width="16.7" height="2.8"/>
<rect x="1565.5" y="1764.5" width="16.7" height="2.8"/>
<rect x="1765" y="1659.4" width="17.4" height="2.8"/>
<rect x="1765" y="1763.4" width="17.4" height="2.8"/>
<rect x="1347.7" y="1675.7" width="109.1" height="74.9" stroke-width="1.5" rx="5"/>
<rect x="1350.2" y="1678.2" width="10.9" height="33.8" stroke-width="1"/>
<rect x="1350.2" y="1714.4" width="10.9" height="33.8" stroke-width="1"/>
<rect x="1363.5" y="1678.2" width="10.9" height="33.8" stroke-width="1"/>
<rect x="1363.5" y="1714.4" width="10.9" height="33.8" stroke-width="1"/>
<rect x="1376.8" y="1678.2" width="10.9" height="33.8" stroke-width="1"/>
<rect x="1376.8" y="1714.4" width="10.9" height="33.8" stroke-width="1"/>
<rect x="1390.2" y="1678.2" width="10.9" height="33.8" stroke-width="1"/>
<rect x="1390.2" y="1714.4" width="10.9" height="33.8" stroke-width="1"/>
<rect x="1403.5" y="1678.2" width="10.9" height="33.8" stroke-width="1"/>
<rect x="1403.5" y="1714.4" width="10.9" height="33.8" stroke-width="1"/>
<rect x="1416.8" y="1678.2" width="10.9" height="33.8" stroke-width="1"/>
<rect x="1416.8" y="1714.4" width="10.9" height="33.8" stroke-width="1"/>
<rect x="1430.1" y="1678.2" width="10.9" height="33.8" stroke-width="1"/>
<rect x="1430.1" y="1714.4" width="10.9" height="33.8" stroke-width="1"/>
<rect x="1443.5" y="1678.2" width="10.9" height="33.8" stroke-width="1"/>
<rect x="1443.5" y="1714.4" width="10.9" height="33.8" stroke-width="1"/>
<path d="M1526.1 1662.2 L1526.1 1690.7 L1522.7 1690.7 C1510.3 1690.7 1503.5 1682.2 1503.5 1676.4 C1503.5 1670.7 1510.3 1662.2 1522.7 1662.2 Z"/>
<path d="M1526.1 1763.4 L1526.1 1734.9 L1522.7 1734.9 C1510.3 1734.9 1503.5 1743.4 1503.5 1749.2 C1503.5 1754.9 1510.3 1763.4 1522.7 1763.4 Z"/>
<path d="M1592.7 1662.2 L1592.7 1690.7 L1589.1 1690.7 C1576.1 1690.7 1569 1682.2 1569 1676.4 C1569 1670.7 1576.1 1662.2 1589.1 1662.2 Z"/>
<path d="M1592.7 1763.4 L1592.7 1734.9 L1589.1 1734.9 C1576.1 1734.9 1569 1743.4 1569 1749.2 C1569 1754.9 1576.1 1763.4 1589.1 1763.4 Z"/>
<path d="M1714.5 1662.9 L1714.5 1690.7 L1711 1690.7 C1698.1 1690.7 1691.1 1682.4 1691.1 1676.8 C1691.1 1671.2 1698.1 1662.9 1711 1662.9 Z"/>
<path d="M1714.5 1762.7 L1714.5 1734.9 L1711 1734.9 C1698.1 1734.9 1691.1 1743.2 1691.1 1748.8 C1691.1 1754.4 1698.1 1762.7 1711 1762.7 Z"/>
<path d="M1714.5 1662.2 1714.5 1763.4"/>
<rect x="1532.4" y="1686.2" width="36.6" height="52.3" stroke-width="1.5" rx="5"/>
<rect x="1535.5" y="1690.7" width="13.9" height="2.4" stroke-width="0.9"/>
<rect x="1551.9" y="1690.7" width="13.9" height="2.4" stroke-width="0.9"/>
<rect x="1535.5" y="1695.1" width="13.9" height="2.4" stroke-width="0.9"/>
<rect x="1551.9" y="1695.1" width="13.9" height="2.4" stroke-width="0.9"/>
<rect x="1535.5" y="1699.4" width="13.9" height="2.4" stroke-width="0.9"/>
<rect x="1551.9" y="1699.4" width="13.9" height="2.4" stroke-width="0.9"/>
<rect x="1535.5" y="1703.8" width="13.9" height="2.4" stroke-width="0.9"/>
<rect x="1551.9" y="1703.8" width="13.9" height="2.4" stroke-width="0.9"/>
<rect x="1535.5" y="1708.2" width="13.9" height="2.4" stroke-width="0.9"/>
<rect x="1551.9" y="1708.2" width="13.9" height="2.4" stroke-width="0.9"/>
<rect x="1535.5" y="1712.5" width="13.9" height="2.4" stroke-width="0.9"/>
<rect x="1551.9" y="1712.5" width="13.9" height="2.4" stroke-width="0.9"/>
<rect x="1535.5" y="1716.9" width="13.9" height="2.4" stroke-width="0.9"/>
<rect x="1551.9" y="1716.9" width="13.9" height="2.4" stroke-width="0.9"/>
<rect x="1535.5" y="1721.2" width="13.9" height="2.4" stroke-width="0.9"/>
<rect x="1551.9" y="1721.2" width="13.9" height="2.4" stroke-width="0.9"/>
<rect x="1535.5" y="1725.6" width="13.9" height="2.4" stroke-width="0.9"/>
<rect x="1551.9" y="1725.6" width="13.9" height="2.4" stroke-width="0.9"/>
<rect x="1535.5" y="1729.9" width="13.9" height="2.4" stroke-width="0.9"/>
<rect x="1551.9" y="1729.9" width="13.9" height="2.4" stroke-width="0.9"/>
<rect x="1535.5" y="1734.3" width="13.9" height="2.4" stroke-width="0.9"/>
<rect x="1551.9" y="1734.3" width="13.9" height="2.4" stroke-width="0.9"/>
<circle cx="1635.2" cy="1712.7" r="33.8"/>
<circle cx="1620.6" cy="1712.7" r="33.8" fill="#fff"/>
<circle cx="1620.6" cy="1712.7" r="27.9" stroke-width="1"/>
<circle cx="1620.6" cy="1712.7" r="22" stroke-width="1.5"/>
<circle cx="1584" cy="1712.7" r="3.1"/>
<rect x="1656.1" y="1709.9" width="13.9" height="5.6" fill="#fff" rx="2"/>
<circle cx="1659.6" cy="1712.7" r="3.5" fill="#fff"/>
<path d="M1671.6 1690.7 1715.5 1690.7 1715.5 1734.3 1671.6 1734.3"/>
<rect x="1752.1" y="1690" width="58.2" height="44.9"/>
<rect x="1756.3" y="1686.6" width="18.1" height="3.5"/>
<rect x="1756.3" y="1735" width="18.1" height="3.5"/>
<path d="M1767.4 1700.1 1767.4 1724.9" stroke-width="2.2"/>
<circle cx="1772.6" cy="1712" r="3.8"/>
<circle cx="1772.6" cy="1712" r="1.7"/>
<path d="M1785.2 1712 1789.4 1705 1796.3 1705 1800.5 1712 1796.3 1719.7 1789.4 1719.7Z" stroke-width="2"/>
<circle cx="1792.9" cy="1712.3" r="3.5"/>
<rect x="1918.3" y="1670.5" width="168.3" height="83.6" rx="5"/>
<path d="M1918.3 1712.7 2076.8 1712.7"/>
<rect x="1980.3" y="1675.7" width="18.1" height="20.9"/>
<rect x="1948.3" y="1731.5" width="18.1" height="20.9"/>
<rect x="2178.6" y="1670.5" width="81.2" height="84.7"/>
<rect x="2076.8" y="1710.2" width="210.1" height="4.9" fill="#fff" rx="2"/>
<rect x="2076.8" y="1710.2" width="12.2" height="4.9"/>
<rect x="2289.4" y="1707.7" width="13.1" height="10.9"/>
<circle cx="2286.9" cy="1712.7" r="5.9" stroke-width="1.5" fill="#fff"/>
<ellipse cx="2099.3" cy="1601.6" rx="100.7" ry="24.1"/>
<ellipse cx="2099.3" cy="1601.6" rx="97.6" ry="21.2"/>
<rect x="1994.5" y="1600.1" width="4.1" height="3"/>
<rect x="2200" y="1600.1" width="4" height="3"/>
<ellipse cx="2099.3" cy="1824" rx="100.7" ry="24.1"/>
<ellipse cx="2099.3" cy="1824" rx="97.6" ry="21.2"/>
<rect x="1994.5" y="1822.5" width="4.1" height="3"/>
<rect x="2200" y="1822.5" width="4" height="3"/>
<circle cx="1936" cy="1791.1" r="22.2"/>
<rect x="1904.4" y="1776.9" width="32.7" height="27.7" fill="#fff" rx="3.5"/>
<path d="M1917.5 1778 1926.6 1778 1926.6 1784.1 1917.5 1784.1 1917.5 1778"/>
<path d="M1917.5 1798 1926.6 1798 1926.6 1804.1 1917.5 1804.1 1917.5 1798"/>
<rect x="1926.6" y="1772.1" width="21.3" height="37.9" fill="#fff"/>
<rect x="1936.6" y="1772.1" width="3.7" height="12.4"/>
<rect x="1936.6" y="1797.6" width="3.7" height="12.4"/>
<rect x="1937.1" y="1785.6" width="17.4" height="3.7" fill="#fff"/>
<rect x="1943.6" y="1792.8" width="10.9" height="3.7" fill="#fff"/>
<rect x="1950.1" y="1771" width="8.7" height="40.7"/>
<path d="M1953.4 1773.2 2080.8 1781.3 2080.8 1801.5 1953.4 1808.9Z" fill="#fff"/>
<path d="M1950.1 1773.6 1958.8 1773.6"/>
<path d="M1950.1 1808.9 1958.8 1808.9"/>
<path d="M1947.9 1776.3 1953.4 1776.3"/>
<path d="M1947.9 1806.3 1953.4 1806.3"/>
<path d="M1956.7 1782.4 1965.4 1782.8 1965.4 1799.3 1956.7 1799.8Z"/>
<path d="M1960.6 1782.4 1960.6 1799.8" stroke-width="0.9"/>
<path d="M1969.7 1783.4 1989.3 1784.5 1989.3 1797.6 1969.7 1798.7Z"/>
<path d="M1973.6 1783.4 1973.6 1798.7" stroke-width="0.9"/>
<path d="M1994.8 1784.5 2016.5 1785.6 2016.5 1796.5 1994.8 1797.6Z"/>
<path d="M1998.7 1784.5 1998.7 1797.6" stroke-width="0.9"/>
<path d="M2020.9 1785.8 2042.7 1786.9 2042.7 1795.4 2020.9 1796.5Z"/>
<path d="M2024.8 1785.8 2024.8 1796.5" stroke-width="0.9"/>
<path d="M2047.7 1787.4 2068.8 1788.5 2068.8 1794.3 2047.7 1795.2Z"/>
<path d="M2051.6 1787.4 2051.6 1795.2" stroke-width="0.9"/>
<path d="M1960.6 1782.6 1960.6 1799.6" stroke-width="0.9"/>
<rect x="2068.8" y="1784.5" width="15.2" height="13.5" fill="#fff"/>
<rect x="2075.3" y="1780.2" width="5.4" height="4.4"/>
<rect x="2075.3" y="1798" width="5.4" height="4.4"/>
<rect x="2250" y="1628" width="31.4" height="35.5"/>
<rect x="2250" y="1762" width="31.4" height="35.5"/>
<rect x="2253.1" y="1635.8" width="25.1" height="20.6"/>
<rect x="2253.1" y="1769.2" width="25.1" height="20.6"/>
<rect x="2260" y="1624.1" width="11.3" height="3.9"/>
<rect x="2260" y="1797.6" width="11.3" height="3.9"/>
<rect x="2260" y="1663.6" width="11.3" height="4.6"/>
<rect x="2260" y="1757.4" width="11.3" height="4.6"/>
<rect x="2263.2" y="1628" width="5" height="7.8"/>
<rect x="2263.2" y="1789.8" width="5" height="7.8"/>
<rect x="2263.2" y="1656.4" width="5" height="7.1"/>
<rect x="2263.2" y="1762" width="5" height="7.1"/>
<path d="M2226.7 1642 L2226.7 1665.3 L2223.8 1665.3 C2213.2 1665.3 2207.5 1658.3 2207.5 1653.6 C2207.5 1649 2213.2 1642 2223.8 1642 Z"/>
<path d="M2226.7 1783.6 L2226.7 1760.3 L2223.8 1760.3 C2213.2 1760.3 2207.5 1767.3 2207.5 1772 C2207.5 1776.6 2213.2 1783.6 2223.8 1783.6 Z"/>
<path d="M2362.5 1642 L2362.5 1665.3 L2359.7 1665.3 C2349.1 1665.3 2343.4 1658.3 2343.4 1653.6 C2343.4 1649 2349.1 1642 2359.7 1642 Z"/>
<path d="M2362.5 1783.6 L2362.5 1760.3 L2359.7 1760.3 C2349.1 1760.3 2343.4 1767.3 2343.4 1772 C2343.4 1776.6 2349.1 1783.6 2359.7 1783.6 Z"/>
<g transform="rotate(6 2337.7 1598.8)"><rect x="2313.2" y="1589.5" width="49" height="18.5"/><circle cx="2323.9" cy="1598.8" r="7" stroke-width="1.5"/><circle cx="2351.5" cy="1598.8" r="7" stroke-width="1.5"/></g>
<g transform="rotate(-6 2337.7 1826.8)"><rect x="2313.2" y="1817.5" width="49" height="18.5"/><circle cx="2323.9" cy="1826.8" r="7" stroke-width="1.5"/><circle cx="2351.5" cy="1826.8" r="7" stroke-width="1.5"/></g>
<rect x="2302.4" y="1577.5" width="4.8" height="270.7" fill="#fff" rx="2"/>
<rect x="2298.5" y="1590.5" width="3.9" height="244.6"/>
<rect x="2295.5" y="1606.4" width="4.8" height="212.8" fill="#fff"/>
<rect x="2307.2" y="1710.9" width="224.3" height="4.4" rx="3"/>
<path d="M2397.6 1601.4 L2397.6 1614.5 L2396.1 1614.5 C2390.4 1614.5 2387.4 1610.6 2387.4 1607.9 C2387.4 1605.3 2390.4 1601.4 2396.1 1601.4 Z"/>
<path d="M2397.6 1824.2 L2397.6 1811.1 L2396.1 1811.1 C2390.4 1811.1 2387.4 1815 2387.4 1817.7 C2387.4 1820.3 2390.4 1824.2 2396.1 1824.2 Z"/>
<path d="M2397.6 1706.6 L2397.6 1719.7 L2396.1 1719.7 C2390.4 1719.7 2387.4 1715.7 2387.4 1713.1 C2387.4 1710.5 2390.4 1706.6 2396.1 1706.6 Z"/>
<path d="M2452.7 1694.2 L2452.7 1707.2 L2451.2 1707.2 C2445.5 1707.2 2442.5 1703.3 2442.5 1700.7 C2442.5 1698.1 2445.5 1694.2 2451.2 1694.2 Z"/>
<path d="M2569.2 1706.6 L2569.2 1719.7 L2567.7 1719.7 C2562 1719.7 2559 1715.7 2559 1713.1 C2559 1710.5 2562 1706.6 2567.7 1706.6 Z"/>
<rect x="2457.7" y="1693.1" width="50.5" height="39.2" rx="3"/>
<rect x="2307.2" y="1710.9" width="224.3" height="4.4" fill="#fff" rx="3"/>
<g transform="rotate(7.1 2561.1 1608.4)"><rect x="2536.5" y="1599.4" width="49.2" height="18"/><circle cx="2547.1" cy="1608.4" r="6.6" stroke-width="1.5"/><circle cx="2575.1" cy="1608.4" r="6.6" stroke-width="1.5"/></g>
<g transform="rotate(-7.1 2561.1 1817.2)"><rect x="2536.5" y="1808.2" width="49.2" height="18"/><circle cx="2547.1" cy="1817.2" r="6.6" stroke-width="1.5"/><circle cx="2575.1" cy="1817.2" r="6.6" stroke-width="1.5"/></g>
<g transform="rotate(0 2683.1 1691.4)"><rect x="2658.5" y="1682.5" width="49.3" height="17.7"/><circle cx="2669.2" cy="1691.4" r="7.1" stroke-width="1.5"/><circle cx="2697" cy="1691.4" r="7.1" stroke-width="1.5"/></g>
<g transform="rotate(0 2683.1 1734.2)"><rect x="2658.5" y="1725.4" width="49.3" height="17.7"/><circle cx="2669.2" cy="1734.2" r="7.1" stroke-width="1.5"/><circle cx="2697" cy="1734.2" r="7.1" stroke-width="1.5"/></g>
<rect x="2710.4" y="1622.6" width="5.3" height="31.6" rx="2"/>
<rect x="2710.4" y="1771.4" width="5.3" height="31.6" rx="2"/>
<rect x="2781.4" y="1638.8" width="5.1" height="148" rx="2.5"/>
<rect x="2717.5" y="1701.5" width="8.8" height="21.5"/>
<rect x="2726.3" y="1704.5" width="10.1" height="15.4"/>
<rect x="2735.1" y="1691.4" width="8.8" height="20.2"/>
<rect x="2735.1" y="1714" width="8.8" height="20.2"/>
<rect x="2738.4" y="1695.1" width="10.6" height="12.6"/>
<rect x="2738.4" y="1717.8" width="10.6" height="12.6"/>
<rect x="2747" y="1694.4" width="10.9" height="6.1"/>
<rect x="2747" y="1725.1" width="10.9" height="6.1"/>
<path d="M2748.5 1694.4 2748.5 1700.5" stroke-width="0.8"/>
<path d="M2748.5 1731.2 2748.5 1725.1" stroke-width="0.8"/>
<path d="M2750.6 1694.4 2750.6 1700.5" stroke-width="0.8"/>
<path d="M2750.6 1731.2 2750.6 1725.1" stroke-width="0.8"/>
<path d="M2752.6 1694.4 2752.6 1700.5" stroke-width="0.8"/>
<path d="M2752.6 1731.2 2752.6 1725.1" stroke-width="0.8"/>
<path d="M2754.6 1694.4 2754.6 1700.5" stroke-width="0.8"/>
<path d="M2754.6 1731.2 2754.6 1725.1" stroke-width="0.8"/>
<path d="M2756.6 1694.4 2756.6 1700.5" stroke-width="0.8"/>
<path d="M2756.6 1731.2 2756.6 1725.1" stroke-width="0.8"/>
<circle cx="2764.2" cy="1689.3" r="7.6" stroke-width="1.5"/>
<circle cx="2764.2" cy="1736.3" r="7.6" stroke-width="1.5"/>
<path d="M2763.7 1696.9 2763.7 1728"/>
<path d="M2761.7 1697.7 2761.7 1727.2" stroke-width="0.8"/>
<path d="M2810.2 1650.9 C2807.8 1652.1 2800.1 1655.3 2795.8 1658 C2791.5 1660.8 2787.1 1664 2784.4 1667.4 C2781.8 1670.7 2780.1 1674.2 2779.9 1678.2 C2779.7 1682.2 2781.5 1687.6 2783.1 1691.4 C2784.8 1695.1 2787.4 1698.2 2790 1701 C2792.5 1703.7 2796.9 1706.6 2798.3 1707.8" stroke-width="1.4"/>
<path d="M2810.2 1774.7 C2807.8 1773.5 2800.1 1770.3 2795.8 1767.6 C2791.5 1764.8 2787.1 1761.6 2784.4 1758.2 C2781.8 1754.9 2780.1 1751.4 2779.9 1747.4 C2779.7 1743.4 2781.5 1738 2783.1 1734.2 C2784.8 1730.5 2787.4 1727.4 2790 1724.6 C2792.5 1721.9 2796.9 1719 2798.3 1717.8" stroke-width="1.4"/>
<path d="M2808.2 1655 C2806.7 1656 2802.3 1658.6 2799.6 1661 C2796.9 1663.5 2793.8 1666.9 2792 1669.9 C2790.2 1672.8 2789.3 1675.6 2789 1678.7 C2788.6 1681.9 2789.3 1685.7 2790 1688.8 C2790.7 1692 2792.3 1695.1 2793.3 1697.7 C2794.2 1700.2 2795.4 1702.9 2795.8 1704"/>
<path d="M2808.2 1770.6 C2806.7 1769.6 2802.3 1767 2799.6 1764.6 C2796.9 1762.1 2793.8 1758.7 2792 1755.7 C2790.2 1752.8 2789.3 1750 2789 1746.9 C2788.6 1743.7 2789.3 1739.9 2790 1736.8 C2790.7 1733.6 2792.3 1730.5 2793.3 1727.9 C2794.2 1725.4 2795.4 1722.7 2795.8 1721.6"/>
<path d="M2810.2 1650.9 2808.2 1655"/>
<path d="M2810.2 1774.7 2808.2 1770.6"/>
<path d="M2798.3 1707.8 2795.8 1704"/>
<path d="M2798.3 1717.8 2795.8 1721.6"/>
<path d="M2782.4 1671.2 2779.9 1674.9 2786.9 1680.7"/>
<path d="M2782.4 1754.4 2779.9 1750.7 2786.9 1744.9"/>
<path d="M2782.4 1671.2 2851.9 1687.8"/>
<path d="M2782.4 1754.4 2851.9 1737.8"/>
<path d="M2786.9 1680.7 2850.6 1693.9"/>
<path d="M2786.9 1744.9 2850.6 1731.7"/>
<circle cx="2853.9" cy="1690.9" r="3.3" stroke-width="1.5"/>
<circle cx="2853.9" cy="1734.7" r="3.3" stroke-width="1.5"/>
<circle cx="2853.9" cy="1690.9" r="1.5"/>
<circle cx="2853.9" cy="1734.7" r="1.5"/>
<circle cx="2862" cy="1692.6" r="2.5" stroke-width="1.5"/>
<circle cx="2862" cy="1733" r="2.5" stroke-width="1.5"/>
<circle cx="2862" cy="1692.6" r="1"/>
<circle cx="2862" cy="1733" r="1"/></g>
<g stroke="none"><path d="M 3005.1 2163.2 L 3027.6 2163.2 L 3027.6 2262.6 L 3005.1 2262.6 Z" fill="#fff" stroke="#fff" stroke-width="10" stroke-linejoin="round"/>
<path d="M 3051.3 2163.2 L 3074.3 2163.2 Q 3068 2191.8 3036 2222.5 L 3027.6 2236.4 L 3027.6 2215.5 Q 3045.7 2196 3051.3 2163.2 Z" fill="#fff" stroke="#fff" stroke-width="10" stroke-linejoin="round"/>
<path d="M 3027.6 2233.6 Q 3034.6 2222.5 3041.6 2224.6 Q 3065.3 2236.4 3075.3 2262.6 L 3050.2 2262.6 Q 3045.7 2246.2 3027.6 2239.2 Z" fill="#fff" stroke="#fff" stroke-width="10" stroke-linejoin="round"/>
<ellipse cx="3093.8" cy="2196.7" rx="21.6" ry="33.7" transform="rotate(9 3093.8 2196.7)" fill="#fff" stroke="#fff" stroke-width="10" stroke-linejoin="round"/>
<path d="M 3187.2 2163.2 L 3187.2 2226.4 L 3171.9 2226.4 L 3171.9 2183.4 L 3159.3 2183.4 L 3159.3 2226.4 L 3136.3 2226.4 C 3126.6 2219.7 3119.6 2208.5 3119.6 2196 C 3119.6 2177.9 3129.4 2163.2 3150.3 2163.2 Z" fill="#fff" stroke="#fff" stroke-width="10" stroke-linejoin="round"/>
<path d="M 3077.8 2233.6 L 3139.8 2233.6 L 3136.3 2257.3 L 3100.1 2257.3 L 3100.1 2265.7 Q 3107.1 2262.2 3115.4 2265.7 Q 3143.3 2278.2 3144 2303.3 Q 3143.3 2329.8 3128 2332.6 L 3077.8 2332.6 Z" fill="#fff" stroke="#fff" stroke-width="10" stroke-linejoin="round"/>
<path d="M 3145.4 2233.6 L 3175.4 2233.6 Q 3188.6 2239.2 3186.5 2253.8 Q 3182.3 2265.7 3159.3 2274.7 L 3159.3 2296.3 L 3145.4 2296.3 Z" fill="#fff" stroke="#fff" stroke-width="10" stroke-linejoin="round"/>
<path d="M 3190.7 2233.6 L 3233.9 2233.6 L 3233.9 2296.3 L 3218.6 2296.3 L 3218.6 2250.3 L 3205.3 2275.4 L 3205.3 2296.3 L 3190.7 2296.3 Z" fill="#fff" stroke="#fff" stroke-width="10" stroke-linejoin="round"/>
<path d="M 3242.3 2233.6 L 3279.2 2233.6 L 3282.3 2253.8 Q 3268.7 2248.3 3256.2 2250.6 L 3256.2 2296.3 L 3242.3 2296.3 Z" fill="#fff" stroke="#fff" stroke-width="10" stroke-linejoin="round"/>
<path d="M 3199.2 2163.2 C 3212.5 2162.7 3222.4 2152.9 3229.3 2144 C 3235.2 2136.1 3243.1 2133.2 3249 2136.1 C 3254.9 2139.1 3255.9 2146 3252.9 2153.9 L 3249 2163.7 L 3283.5 2164.2 L 3256.4 2218.4 Q 3243.1 2232.7 3229.3 2218.4 Z" fill="#fff" stroke="#fff" stroke-width="10" stroke-linejoin="round"/>
<path d="M3276.9 2085.2 L3288.4 2117 L3322.2 2116.4 L3295.5 2137.1 L3306.6 2169.1 L3278.6 2150.2 L3251.6 2170.5 L3260.9 2138.1 L3233.2 2118.7 L3267 2117.5 Z" fill="#fff" stroke="#fff" stroke-width="10" stroke-linejoin="round"/>
<text x="3151.5" y="2333.3" font-family="'Liberation Sans', sans-serif" font-weight="bold" font-size="30.5" textLength="216" lengthAdjust="spacingAndGlyphs" fill="#fff" stroke="#fff" stroke-width="10" stroke-linejoin="round">Made in Russia</text>
<path d="M 3005.1 2163.2 L 3027.6 2163.2 L 3027.6 2262.6 L 3005.1 2262.6 Z" fill="#333333"/>
<path d="M 3051.3 2163.2 L 3074.3 2163.2 Q 3068 2191.8 3036 2222.5 L 3027.6 2236.4 L 3027.6 2215.5 Q 3045.7 2196 3051.3 2163.2 Z" fill="#333333"/>
<path d="M 3027.6 2233.6 Q 3034.6 2222.5 3041.6 2224.6 Q 3065.3 2236.4 3075.3 2262.6 L 3050.2 2262.6 Q 3045.7 2246.2 3027.6 2239.2 Z" fill="#333333"/>
<ellipse cx="3093.8" cy="2196.7" rx="21.6" ry="33.7" transform="rotate(9 3093.8 2196.7)" fill="#333333"/>
<path d="M 3187.2 2163.2 L 3187.2 2226.4 L 3171.9 2226.4 L 3171.9 2183.4 L 3159.3 2183.4 L 3159.3 2226.4 L 3136.3 2226.4 C 3126.6 2219.7 3119.6 2208.5 3119.6 2196 C 3119.6 2177.9 3129.4 2163.2 3150.3 2163.2 Z" fill="#333333"/>
<path d="M 3077.8 2233.6 L 3139.8 2233.6 L 3136.3 2257.3 L 3100.1 2257.3 L 3100.1 2265.7 Q 3107.1 2262.2 3115.4 2265.7 Q 3143.3 2278.2 3144 2303.3 Q 3143.3 2329.8 3128 2332.6 L 3077.8 2332.6 Z" fill="#333333"/>
<path d="M 3145.4 2233.6 L 3175.4 2233.6 Q 3188.6 2239.2 3186.5 2253.8 Q 3182.3 2265.7 3159.3 2274.7 L 3159.3 2296.3 L 3145.4 2296.3 Z" fill="#333333"/>
<path d="M 3190.7 2233.6 L 3233.9 2233.6 L 3233.9 2296.3 L 3218.6 2296.3 L 3218.6 2250.3 L 3205.3 2275.4 L 3205.3 2296.3 L 3190.7 2296.3 Z" fill="#333333"/>
<path d="M 3242.3 2233.6 L 3279.2 2233.6 L 3282.3 2253.8 Q 3268.7 2248.3 3256.2 2250.6 L 3256.2 2296.3 L 3242.3 2296.3 Z" fill="#333333"/>
<path d="M 3199.2 2163.2 C 3212.5 2162.7 3222.4 2152.9 3229.3 2144 C 3235.2 2136.1 3243.1 2133.2 3249 2136.1 C 3254.9 2139.1 3255.9 2146 3252.9 2153.9 L 3249 2163.7 L 3283.5 2164.2 L 3256.4 2218.4 Q 3243.1 2232.7 3229.3 2218.4 Z" fill="#333333"/>
<path d="M3276.9 2085.2 L3288.4 2117 L3322.2 2116.4 L3295.5 2137.1 L3306.6 2169.1 L3278.6 2150.2 L3251.6 2170.5 L3260.9 2138.1 L3233.2 2118.7 L3267 2117.5 Z" fill="#333333"/>
<ellipse cx="3094.5" cy="2198.8" rx="7.2" ry="17" transform="rotate(12 3094.5 2198.8)" fill="#fff"/>
<path d="M 3138 2225.5 Q 3134.3 2205.7 3143 2184.8 L 3145.3 2185.7 Q 3137.7 2205.7 3140.5 2226.1 Z" fill="#fff"/>
<path d="M 3100.4 2281.7 Q 3115.4 2289.4 3120.3 2304.4 L 3100.4 2304.4 Z" fill="#d2d3d5"/>
<path d="M 3106.4 2263.6 Q 3122.4 2265.7 3136.3 2279.6 Q 3129.4 2269.9 3116.1 2265.1 Q 3111.3 2263.2 3106.4 2263.6 Z" fill="#d2d3d5"/>
<path d="M 3159.3 2269.6 Q 3174 2261.5 3176.5 2250.6 L 3174 2249.8 Q 3171.2 2258.7 3159.3 2265.4 Z" fill="#fff"/>
<path d="M 3202.2 2166.2 C 3214.5 2165.2 3224.4 2155.8 3231.3 2146.5 C 3236.7 2139.1 3243.1 2136.6 3248 2138.9 C 3252.9 2141.5 3252.5 2147.9 3250.5 2153.9 L 3248 2167.7" fill="none" stroke="#fff" stroke-width="2.3" stroke-linejoin="round"/>
<path d="M 3242.6 2166.2 L 3252.9 2181 L 3242.6 2195.8 L 3232.2 2180 Z" fill="none" stroke="#fff" stroke-width="2.2"/>
<path d="M 3244.6 2172.6 L 3249.8 2180 L 3243.1 2189.4 L 3237 2180.3 Z" fill="#fff"/>
<path d="M 3239.1 2174.1 L 3243.1 2168.2 L 3247 2174.1 L 3244.1 2174.6 Z" fill="#333333"/>
<path d="M 3249 2170.1 L 3279.6 2153.9" fill="none" stroke="#fff" stroke-width="2.4"/>
<path d="M 3271.2 2161.8 L 3281.5 2164.7" fill="none" stroke="#fff" stroke-width="1.8"/>
<path d="M 3282.5 2119.9 C 3294.4 2126.3 3294.4 2142 3282.5 2146 C 3276.6 2147.9 3271.7 2146 3269.2 2143 L 3266.8 2145.5 L 3264.3 2143 L 3268.7 2139.1 C 3273.7 2143 3279.6 2143 3283.5 2139.1 C 3288.4 2133.2 3287.5 2126.3 3282.5 2119.9 Z" fill="#fff"/>
<path d="M 3264.8 2125.8 L 3276.1 2120.3 L 3278.1 2124.3 L 3273.2 2126.8 L 3289.4 2144 L 3290.9 2146 L 3288.4 2148.4 L 3269.2 2129.7 L 3266.8 2130.7 Z" fill="#fff"/>
<text x="3151.5" y="2333.3" font-family="'Liberation Sans', sans-serif" font-weight="bold" font-size="30.5" textLength="216" lengthAdjust="spacingAndGlyphs" fill="#333333" stroke="#333333" stroke-width="0.9" stroke-linejoin="round">Made in Russia</text></g>
</svg>
</body></html>
